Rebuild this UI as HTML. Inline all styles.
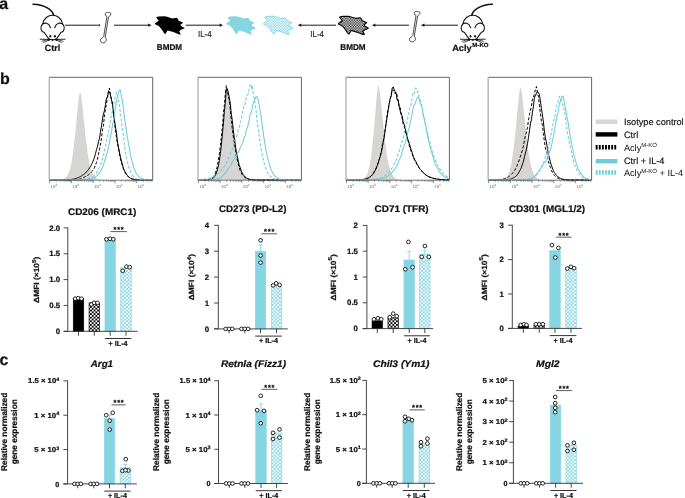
<!DOCTYPE html>
<html><head><meta charset="utf-8"><style>
html,body{margin:0;padding:0;background:#fff;}
svg{display:block;font-family:"Liberation Sans", sans-serif;will-change:transform;text-rendering:geometricPrecision;}
text[font-weight="bold"]{stroke:#111;stroke-width:0.22px;}
text[font-weight="normal"]{stroke:#111;stroke-width:0.16px;}
</style></head><body>
<svg width="685" height="498" viewBox="0 0 685 498">
<rect width="685" height="498" fill="#fff"/>
<defs>
<pattern id="chkK" width="3.6" height="3.6" patternUnits="userSpaceOnUse"><rect width="3.6" height="3.6" fill="#fff"/><rect width="1.8" height="1.8" fill="#000"/><rect x="1.8" y="1.8" width="1.8" height="1.8" fill="#000"/></pattern>
<pattern id="chkC" width="3.6" height="3.6" patternUnits="userSpaceOnUse"><rect width="3.6" height="3.6" fill="#fff"/><rect width="1.8" height="1.8" fill="#86d5e2"/><rect x="1.8" y="1.8" width="1.8" height="1.8" fill="#86d5e2"/></pattern>
<pattern id="chkCs" width="2.6" height="2.6" patternUnits="userSpaceOnUse"><rect width="2.6" height="2.6" fill="#fff"/><rect width="1.3" height="1.3" fill="#86d5e2"/><rect x="1.3" y="1.3" width="1.3" height="1.3" fill="#86d5e2"/></pattern>
<pattern id="chkKs" width="2.6" height="2.6" patternUnits="userSpaceOnUse"><rect width="2.6" height="2.6" fill="#fff"/><rect width="1.3" height="1.3" fill="#111"/><rect x="1.3" y="1.3" width="1.3" height="1.3" fill="#111"/></pattern>
</defs>
<text x="-0.70" y="8.50" font-size="16" font-weight="bold" font-style="normal" text-anchor="start" fill="#111" >a</text>
<text x="0.00" y="84.20" font-size="16" font-weight="bold" font-style="normal" text-anchor="start" fill="#111" >b</text>
<text x="-0.40" y="365.40" font-size="16" font-weight="bold" font-style="normal" text-anchor="start" fill="#111" >c</text>
<g transform="translate(52.6,0) scale(1,1)" fill="none" stroke="#111" stroke-width="1.05" stroke-linecap="round"><path d="M1,15.2 C0,10 -8,4.6 -19.5,4.3" stroke-width="1.6"/><path d="M-8.2,32.6 C-10,32 -11.2,31 -11.4,29.6 C-11.8,27.8 -11.2,25.2 -9.9,23.9 C-9,18.5 -4.5,15.2 0,15.2 C4.5,15.2 9,18.5 9.9,23.9 C11.2,25.2 11.8,27.8 11.4,29.6 C11.2,31 10,32 8.2,32.6 L4.2,38.3 C3,39.4 1.5,39.9 0,39.9 C-1.5,39.9 -3,39.4 -4.2,38.3 Z" fill="#fff"/><path d="M-9.8,23.9 C-8,22.7 -4,22.4 -2.1,27.7"/><path d="M9.8,23.9 C8,22.7 4,22.4 2.1,27.7"/><ellipse cx="-2.3" cy="36.3" rx="0.95" ry="1.2" fill="#111" stroke="none"/><ellipse cx="2.3" cy="36.3" rx="0.95" ry="1.2" fill="#111" stroke="none"/><path d="M-1.4,38.9 L1.4,38.9 L0.5,39.8 L0.35,41.0 L-0.35,41.0 L-0.5,39.8 Z" fill="#111" stroke="none"/><path d="M-12.5,39.2 L-3,39.4 M12.5,39.2 L3,39.4" stroke-width="0.9"/><ellipse cx="-3.9" cy="39.8" rx="1.3" ry="1.0" fill="#111" stroke="none"/><ellipse cx="3.9" cy="39.8" rx="1.3" ry="1.0" fill="#111" stroke="none"/><path d="M-3,39.6 C-6,40 -8.5,40.4 -10.6,41.3 M3,39.6 C6,40 8.5,40.4 10.6,41.3" stroke-width="0.75"/><path d="M-3,39.8 C-5,40.8 -7,41.8 -9,42.4 M3,39.8 C5,40.8 7,41.8 9,42.4" stroke-width="0.75"/></g>
<g transform="translate(472.8,0) scale(-1,1)" fill="none" stroke="#111" stroke-width="1.05" stroke-linecap="round"><path d="M1,15.2 C0,10 -8,4.6 -19.5,4.3" stroke-width="1.6"/><path d="M-8.2,32.6 C-10,32 -11.2,31 -11.4,29.6 C-11.8,27.8 -11.2,25.2 -9.9,23.9 C-9,18.5 -4.5,15.2 0,15.2 C4.5,15.2 9,18.5 9.9,23.9 C11.2,25.2 11.8,27.8 11.4,29.6 C11.2,31 10,32 8.2,32.6 L4.2,38.3 C3,39.4 1.5,39.9 0,39.9 C-1.5,39.9 -3,39.4 -4.2,38.3 Z" fill="#fff"/><path d="M-9.8,23.9 C-8,22.7 -4,22.4 -2.1,27.7"/><path d="M9.8,23.9 C8,22.7 4,22.4 2.1,27.7"/><ellipse cx="-2.3" cy="36.3" rx="0.95" ry="1.2" fill="#111" stroke="none"/><ellipse cx="2.3" cy="36.3" rx="0.95" ry="1.2" fill="#111" stroke="none"/><path d="M-1.4,38.9 L1.4,38.9 L0.5,39.8 L0.35,41.0 L-0.35,41.0 L-0.5,39.8 Z" fill="#111" stroke="none"/><path d="M-12.5,39.2 L-3,39.4 M12.5,39.2 L3,39.4" stroke-width="0.9"/><ellipse cx="-3.9" cy="39.8" rx="1.3" ry="1.0" fill="#111" stroke="none"/><ellipse cx="3.9" cy="39.8" rx="1.3" ry="1.0" fill="#111" stroke="none"/><path d="M-3,39.6 C-6,40 -8.5,40.4 -10.6,41.3 M3,39.6 C6,40 8.5,40.4 10.6,41.3" stroke-width="0.75"/><path d="M-3,39.8 C-5,40.8 -7,41.8 -9,42.4 M3,39.8 C5,40.8 7,41.8 9,42.4" stroke-width="0.75"/></g>
<text x="52.50" y="51.00" font-size="9" font-weight="bold" font-style="normal" text-anchor="middle" fill="#111" textLength="15.3" lengthAdjust="spacingAndGlyphs" >Ctrl</text>
<text x="452.20" y="51.20" font-size="9" font-weight="bold" font-style="normal" text-anchor="start" fill="#111" textLength="19.5" lengthAdjust="spacingAndGlyphs" >Acly</text>
<text x="472.30" y="47.00" font-size="6" font-weight="bold" font-style="normal" text-anchor="start" fill="#111" textLength="16.2" lengthAdjust="spacingAndGlyphs" >M-KO</text>
<g transform="translate(0,0)" fill="#fff" stroke="#111" stroke-width="0.75"><path d="M106.9,16.6 C105.6,15.8 104.9,14.6 105.4,13.4 C105.9,12.3 107.3,12.1 108.5,12.6 C109.6,12.3 110.9,12.8 110.9,14.0 C110.9,15.2 109.6,16.1 108.5,16.9 L105.2,37.3 C106.2,38.2 106.6,39.6 106.1,40.6 C105.7,41.8 104.6,43 103.4,42.8 C102.5,43.1 101,42.5 100.6,41.4 C100.1,40.3 100.6,38.9 101.6,38.3 C102.4,37.9 103.4,37.3 103.7,36.6 L106.9,16.6 Z"/></g>
<g transform="translate(309.1,-1)" fill="#fff" stroke="#111" stroke-width="0.75"><path d="M106.9,16.6 C105.6,15.8 104.9,14.6 105.4,13.4 C105.9,12.3 107.3,12.1 108.5,12.6 C109.6,12.3 110.9,12.8 110.9,14.0 C110.9,15.2 109.6,16.1 108.5,16.9 L105.2,37.3 C106.2,38.2 106.6,39.6 106.1,40.6 C105.7,41.8 104.6,43 103.4,42.8 C102.5,43.1 101,42.5 100.6,41.4 C100.1,40.3 100.6,38.9 101.6,38.3 C102.4,37.9 103.4,37.3 103.7,36.6 L106.9,16.6 Z"/></g>
<line x1="65" y1="25.2" x2="99.6" y2="25.2" stroke="#000" stroke-width="0.9"/>
<line x1="99.6" y1="24" x2="99.6" y2="26.4" stroke="#111" stroke-width="0.7"/>
<line x1="114" y1="25.2" x2="149.0" y2="25.2" stroke="#000" stroke-width="0.9"/>
<path d="M151.5,25.2 L148.1,23.599999999999998 L148.1,26.8 Z" fill="#111"/>
<line x1="185.8" y1="25.2" x2="220.5" y2="25.2" stroke="#000" stroke-width="0.9"/>
<path d="M223,25.2 L219.6,23.599999999999998 L219.6,26.8 Z" fill="#111"/>
<line x1="336" y1="25.2" x2="300.3" y2="25.2" stroke="#000" stroke-width="0.9"/>
<path d="M297.8,25.2 L301.2,23.599999999999998 L301.2,26.8 Z" fill="#111"/>
<line x1="409" y1="25.2" x2="374.5" y2="25.2" stroke="#000" stroke-width="0.9"/>
<path d="M372,25.2 L375.4,23.599999999999998 L375.4,26.8 Z" fill="#111"/>
<line x1="458" y1="25.2" x2="423.5" y2="25.2" stroke="#000" stroke-width="0.9"/>
<path d="M421,25.2 L424.4,23.599999999999998 L424.4,26.8 Z" fill="#111"/>
<text x="204.80" y="37.20" font-size="8.6" font-weight="normal" font-style="normal" text-anchor="middle" fill="#333" textLength="13.7" lengthAdjust="spacingAndGlyphs" >IL-4</text>
<text x="317.20" y="37.20" font-size="8.6" font-weight="normal" font-style="normal" text-anchor="middle" fill="#333" textLength="13.7" lengthAdjust="spacingAndGlyphs" >IL-4</text>
<text x="169.50" y="50.30" font-size="8.4" font-weight="bold" font-style="normal" text-anchor="middle" fill="#111" textLength="25.3" lengthAdjust="spacingAndGlyphs" >BMDM</text>
<text x="353.00" y="50.30" font-size="8.4" font-weight="bold" font-style="normal" text-anchor="middle" fill="#111" textLength="25.3" lengthAdjust="spacingAndGlyphs" >BMDM</text>
<path d="M156.1,17.3 C157,16.6 158,16.4 158.8,16.4 L164.6,16.2 C166.5,16.4 168,17 169.3,17.5 L172.2,18.4 L176.6,17.8 C177.6,18 178,19.5 178.6,20.8 L183,22.5 C182.6,23.6 181.2,24.1 180.4,24.6 L181,26 L184.7,28.1 C184,28.9 182.5,29.2 181.5,29.5 L179.2,31.3 L180.7,34.2 C180,34.5 179.2,34.4 178.6,34.2 L173.4,32.1 L167.5,30.4 L165.5,33.9 C164.8,34 164.4,33.6 164,33 L161.4,28.9 L158.8,26 L154.7,24 C154.8,23.4 155.2,23.1 155.8,22.8 L158.8,20.8 L156.4,17.8 Z" fill="#000"/>
<path d="M156.1,17.3 C157,16.6 158,16.4 158.8,16.4 L164.6,16.2 C166.5,16.4 168,17 169.3,17.5 L172.2,18.4 L176.6,17.8 C177.6,18 178,19.5 178.6,20.8 L183,22.5 C182.6,23.6 181.2,24.1 180.4,24.6 L181,26 L184.7,28.1 C184,28.9 182.5,29.2 181.5,29.5 L179.2,31.3 L180.7,34.2 C180,34.5 179.2,34.4 178.6,34.2 L173.4,32.1 L167.5,30.4 L165.5,33.9 C164.8,34 164.4,33.6 164,33 L161.4,28.9 L158.8,26 L154.7,24 C154.8,23.4 155.2,23.1 155.8,22.8 L158.8,20.8 L156.4,17.8 Z" fill="#86d5e2" transform="translate(71.4,0)"/>
<path d="M156.1,17.3 C157,16.6 158,16.4 158.8,16.4 L164.6,16.2 C166.5,16.4 168,17 169.3,17.5 L172.2,18.4 L176.6,17.8 C177.6,18 178,19.5 178.6,20.8 L183,22.5 C182.6,23.6 181.2,24.1 180.4,24.6 L181,26 L184.7,28.1 C184,28.9 182.5,29.2 181.5,29.5 L179.2,31.3 L180.7,34.2 C180,34.5 179.2,34.4 178.6,34.2 L173.4,32.1 L167.5,30.4 L165.5,33.9 C164.8,34 164.4,33.6 164,33 L161.4,28.9 L158.8,26 L154.7,24 C154.8,23.4 155.2,23.1 155.8,22.8 L158.8,20.8 L156.4,17.8 Z" fill="url(#chkCs)" stroke="#86d5e2" stroke-width="0.9" transform="translate(108.6,0)"/>
<path d="M156.1,17.3 C157,16.6 158,16.4 158.8,16.4 L164.6,16.2 C166.5,16.4 168,17 169.3,17.5 L172.2,18.4 L176.6,17.8 C177.6,18 178,19.5 178.6,20.8 L183,22.5 C182.6,23.6 181.2,24.1 180.4,24.6 L181,26 L184.7,28.1 C184,28.9 182.5,29.2 181.5,29.5 L179.2,31.3 L180.7,34.2 C180,34.5 179.2,34.4 178.6,34.2 L173.4,32.1 L167.5,30.4 L165.5,33.9 C164.8,34 164.4,33.6 164,33 L161.4,28.9 L158.8,26 L154.7,24 C154.8,23.4 155.2,23.1 155.8,22.8 L158.8,20.8 L156.4,17.8 Z" fill="url(#chkKs)" stroke="#000" stroke-width="1.1" transform="translate(183.6,0)"/>
<path d="M49.80,180.00 L50.79,180.00 L51.79,180.00 L52.78,180.00 L53.78,179.99 L54.77,179.99 L55.77,179.98 L56.76,179.97 L57.75,179.95 L58.75,179.91 L59.74,179.86 L60.74,179.76 L61.73,179.62 L62.72,179.39 L63.72,179.05 L64.71,178.54 L65.71,177.79 L66.70,176.70 L67.70,175.17 L68.69,173.05 L69.68,170.18 L70.68,166.40 L71.67,161.53 L72.67,155.43 L73.66,148.04 L74.65,139.39 L75.65,129.66 L76.64,119.27 L77.64,108.90 L78.63,99.58 L79.63,92.88 L80.62,92.93 L81.61,99.13 L82.61,107.70 L83.60,117.32 L84.60,127.10 L85.59,136.42 L86.58,144.89 L87.58,152.30 L88.57,158.57 L89.57,163.73 L90.56,167.87 L91.56,171.11 L92.55,173.59 L93.54,175.45 L94.54,176.82 L95.53,177.82 L96.53,178.52 L97.52,179.01 L98.51,179.35 L99.51,179.58 L100.50,179.73 L101.50,179.83 L102.49,179.89 L103.49,179.93 L104.48,179.96 L105.47,179.98 L106.47,179.99 L107.46,179.99 L108.46,180.00 L109.45,180.00 L110.44,180.00 L111.44,180.00 L112.43,180.00 L113.43,180.00 L114.42,180.00 L115.42,180.00 L116.41,180.00 L117.40,180.00 L118.40,180.00 L119.39,180.00 L120.39,180.00 L121.38,180.00 L122.37,180.00 L123.37,180.00 L124.36,180.00 L125.36,180.00 L126.35,180.00 L127.35,180.00 L128.34,180.00 L129.33,180.00 L130.33,180.00 L131.32,180.00 L132.32,180.00 L133.31,180.00 L134.30,180.00 L135.30,180.00 L136.29,180.00 L137.29,180.00 L138.28,180.00 L139.28,180.00 L140.27,180.00 L141.26,180.00 L142.26,180.00 L143.25,180.00 L144.25,180.00 L145.24,180.00 L146.23,180.00 L147.23,180.00 L148.22,180.00 L149.22,180.00 L150.21,180.00 L151.21,180.00 L152.20,180.00 L152.2,180.3 L49.8,180.3 Z" fill="#d7d5d3" stroke="none"/>
<path d="M49.80,180.00 L50.79,180.00 L51.79,180.00 L52.78,180.00 L53.78,180.00 L54.77,180.00 L55.77,180.00 L56.76,180.00 L57.75,180.00 L58.75,180.00 L59.74,180.00 L60.74,180.00 L61.73,180.00 L62.72,180.00 L63.72,180.00 L64.71,180.00 L65.71,180.00 L66.70,180.00 L67.70,180.00 L68.69,179.99 L69.68,179.99 L70.68,179.98 L71.67,179.96 L72.67,179.94 L73.66,179.90 L74.65,179.85 L75.65,179.77 L76.64,179.66 L77.64,179.52 L78.63,179.33 L79.63,179.09 L80.62,178.79 L81.61,178.43 L82.61,178.04 L83.60,177.60 L84.60,176.99 L85.59,176.56 L86.58,175.83 L87.58,175.24 L88.57,174.67 L89.57,173.73 L90.56,173.10 L91.56,171.90 L92.55,170.93 L93.54,169.47 L94.54,167.37 L95.53,164.66 L96.53,162.64 L97.52,159.13 L98.51,154.37 L99.51,148.80 L100.50,143.99 L101.50,138.22 L102.49,129.42 L103.49,125.49 L104.48,114.51 L105.47,109.62 L106.47,103.42 L107.46,97.57 L108.46,92.01 L109.45,87.99 L110.44,95.62 L111.44,98.88 L112.43,105.40 L113.43,114.09 L114.42,120.87 L115.42,130.10 L116.41,137.00 L117.40,143.02 L118.40,147.86 L119.39,153.75 L120.39,158.59 L121.38,162.25 L122.37,165.85 L123.37,168.84 L124.36,170.88 L125.36,172.92 L126.35,174.68 L127.35,175.82 L128.34,176.83 L129.33,177.55 L130.33,178.21 L131.32,178.67 L132.32,179.02 L133.31,179.29 L134.30,179.48 L135.30,179.63 L136.29,179.74 L137.29,179.81 L138.28,179.87 L139.28,179.91 L140.27,179.94 L141.26,179.96 L142.26,179.97 L143.25,179.98 L144.25,179.99 L145.24,179.99 L146.23,179.99 L147.23,180.00 L148.22,180.00 L149.22,180.00 L150.21,180.00 L151.21,180.00 L152.20,180.00" fill="none" stroke="#000" stroke-width="1.0" stroke-dasharray="3,1.8"/>
<path d="M49.80,180.00 L50.79,180.00 L51.79,180.00 L52.78,180.00 L53.78,180.00 L54.77,180.00 L55.77,180.00 L56.76,180.00 L57.75,180.00 L58.75,179.99 L59.74,179.99 L60.74,179.98 L61.73,179.98 L62.72,179.97 L63.72,179.95 L64.71,179.93 L65.71,179.91 L66.70,179.87 L67.70,179.82 L68.69,179.75 L69.68,179.67 L70.68,179.56 L71.67,179.43 L72.67,179.27 L73.66,179.07 L74.65,178.83 L75.65,178.55 L76.64,178.23 L77.64,177.82 L78.63,177.47 L79.63,176.85 L80.62,176.52 L81.61,175.85 L82.61,175.09 L83.60,174.60 L84.60,173.67 L85.59,173.02 L86.58,171.71 L87.58,170.53 L88.57,169.40 L89.57,167.72 L90.56,166.59 L91.56,164.34 L92.55,162.29 L93.54,159.85 L94.54,157.23 L95.53,153.37 L96.53,149.49 L97.52,146.49 L98.51,141.60 L99.51,138.56 L100.50,131.43 L101.50,126.11 L102.49,118.95 L103.49,113.75 L104.48,110.53 L105.47,104.53 L106.47,97.84 L107.46,97.23 L108.46,91.23 L109.45,91.53 L110.44,94.61 L111.44,99.99 L112.43,102.53 L113.43,113.00 L114.42,119.85 L115.42,126.70 L116.41,132.32 L117.40,141.47 L118.40,146.63 L119.39,151.97 L120.39,156.34 L121.38,160.78 L122.37,164.44 L123.37,168.05 L124.36,170.45 L125.36,172.54 L126.35,173.99 L127.35,175.35 L128.34,176.65 L129.33,177.46 L130.33,178.09 L131.32,178.55 L132.32,178.93 L133.31,179.22 L134.30,179.43 L135.30,179.59 L136.29,179.71 L137.29,179.79 L138.28,179.85 L139.28,179.90 L140.27,179.93 L141.26,179.95 L142.26,179.97 L143.25,179.98 L144.25,179.98 L145.24,179.99 L146.23,179.99 L147.23,180.00 L148.22,180.00 L149.22,180.00 L150.21,180.00 L151.21,180.00 L152.20,180.00" fill="none" stroke="#000" stroke-width="1.0" stroke-linejoin="round"/>
<path d="M49.80,180.00 L50.79,180.00 L51.79,180.00 L52.78,180.00 L53.78,180.00 L54.77,180.00 L55.77,180.00 L56.76,180.00 L57.75,180.00 L58.75,180.00 L59.74,180.00 L60.74,180.00 L61.73,180.00 L62.72,180.00 L63.72,180.00 L64.71,180.00 L65.71,180.00 L66.70,180.00 L67.70,180.00 L68.69,180.00 L69.68,179.99 L70.68,179.99 L71.67,179.99 L72.67,179.98 L73.66,179.98 L74.65,179.97 L75.65,179.96 L76.64,179.95 L77.64,179.93 L78.63,179.90 L79.63,179.87 L80.62,179.83 L81.61,179.78 L82.61,179.71 L83.60,179.62 L84.60,179.51 L85.59,179.37 L86.58,179.20 L87.58,178.98 L88.57,178.70 L89.57,178.36 L90.56,177.97 L91.56,177.42 L92.55,176.77 L93.54,176.08 L94.54,175.25 L95.53,174.03 L96.53,172.75 L97.52,171.12 L98.51,169.06 L99.51,167.10 L100.50,164.82 L101.50,161.94 L102.49,158.71 L103.49,156.06 L104.48,150.80 L105.47,146.61 L106.47,141.61 L107.46,136.62 L108.46,132.31 L109.45,126.70 L110.44,122.00 L111.44,114.24 L112.43,110.91 L113.43,105.61 L114.42,100.15 L115.42,96.36 L116.41,92.61 L117.40,94.14 L118.40,98.96 L119.39,104.96 L120.39,113.06 L121.38,120.44 L122.37,129.91 L123.37,135.53 L124.36,143.68 L125.36,151.18 L126.35,156.67 L127.35,161.40 L128.34,165.44 L129.33,168.93 L130.33,171.20 L131.32,173.32 L132.32,175.19 L133.31,176.46 L134.30,177.49 L135.30,178.20 L136.29,178.69 L137.29,179.08 L138.28,179.36 L139.28,179.56 L140.27,179.70 L141.26,179.80 L142.26,179.87 L143.25,179.91 L144.25,179.94 L145.24,179.96 L146.23,179.98 L147.23,179.98 L148.22,179.99 L149.22,179.99 L150.21,180.00 L151.21,180.00 L152.20,180.00" fill="none" stroke="#70ccda" stroke-width="1.05" stroke-dasharray="3,1.8"/>
<path d="M49.80,180.00 L50.79,180.00 L51.79,180.00 L52.78,180.00 L53.78,180.00 L54.77,180.00 L55.77,180.00 L56.76,180.00 L57.75,180.00 L58.75,180.00 L59.74,180.00 L60.74,180.00 L61.73,180.00 L62.72,180.00 L63.72,180.00 L64.71,180.00 L65.71,180.00 L66.70,180.00 L67.70,180.00 L68.69,180.00 L69.68,180.00 L70.68,180.00 L71.67,180.00 L72.67,179.99 L73.66,179.99 L74.65,179.99 L75.65,179.98 L76.64,179.98 L77.64,179.97 L78.63,179.96 L79.63,179.95 L80.62,179.93 L81.61,179.90 L82.61,179.87 L83.60,179.83 L84.60,179.78 L85.59,179.71 L86.58,179.63 L87.58,179.52 L88.57,179.38 L89.57,179.20 L90.56,178.98 L91.56,178.70 L92.55,178.36 L93.54,177.96 L94.54,177.46 L95.53,176.73 L96.53,176.11 L97.52,175.25 L98.51,173.85 L99.51,172.69 L100.50,171.35 L101.50,169.33 L102.49,167.62 L103.49,164.82 L104.48,161.56 L105.47,158.48 L106.47,155.13 L107.46,151.90 L108.46,147.43 L109.45,143.20 L110.44,136.68 L111.44,131.90 L112.43,125.46 L113.43,121.16 L114.42,115.80 L115.42,107.66 L116.41,101.33 L117.40,96.90 L118.40,92.93 L119.39,89.91 L120.39,90.10 L121.38,96.50 L122.37,100.64 L123.37,108.07 L124.36,116.57 L125.36,123.82 L126.35,130.19 L127.35,137.15 L128.34,142.59 L129.33,148.06 L130.33,154.26 L131.32,158.22 L132.32,162.24 L133.31,165.74 L134.30,169.03 L135.30,171.42 L136.29,173.29 L137.29,174.81 L138.28,176.02 L139.28,176.89 L140.27,177.62 L141.26,178.26 L142.26,178.71 L143.25,179.05 L144.25,179.31 L145.24,179.50 L146.23,179.64 L147.23,179.74 L148.22,179.82 L149.22,179.87 L150.21,179.91 L151.21,179.94 L152.20,179.96" fill="none" stroke="#70ccda" stroke-width="1.05" stroke-linejoin="round"/>
<path d="M49.3,77.3 L152.7,77.3 L152.7,180.2" fill="none" stroke="#666" stroke-width="1.0"/>
<line x1="49.3" y1="76.8" x2="49.3" y2="180.2" stroke="#b4b4b4" stroke-width="1.4"/>
<line x1="49.3" y1="180.2" x2="152.7" y2="180.2" stroke="#555" stroke-width="0.8"/>
<line x1="49.70" y1="180.3" x2="49.70" y2="183.2" stroke="#444" stroke-width="0.6"/>
<line x1="56.25" y1="180.3" x2="56.25" y2="181.8" stroke="#444" stroke-width="0.5"/>
<line x1="60.08" y1="180.3" x2="60.08" y2="181.8" stroke="#444" stroke-width="0.5"/>
<line x1="62.79" y1="180.3" x2="62.79" y2="181.8" stroke="#444" stroke-width="0.5"/>
<line x1="64.90" y1="180.3" x2="64.90" y2="181.8" stroke="#444" stroke-width="0.5"/>
<line x1="66.62" y1="180.3" x2="66.62" y2="181.8" stroke="#444" stroke-width="0.5"/>
<line x1="68.08" y1="180.3" x2="68.08" y2="181.8" stroke="#444" stroke-width="0.5"/>
<line x1="69.34" y1="180.3" x2="69.34" y2="181.8" stroke="#444" stroke-width="0.5"/>
<line x1="70.45" y1="180.3" x2="70.45" y2="181.8" stroke="#444" stroke-width="0.5"/>
<text x="50.60" y="188.0" font-size="4.4" fill="#666">10<tspan dy="-1.9" font-size="3.1">2</tspan></text>
<line x1="71.45" y1="180.3" x2="71.45" y2="183.2" stroke="#444" stroke-width="0.6"/>
<line x1="78.00" y1="180.3" x2="78.00" y2="181.8" stroke="#444" stroke-width="0.5"/>
<line x1="81.83" y1="180.3" x2="81.83" y2="181.8" stroke="#444" stroke-width="0.5"/>
<line x1="84.54" y1="180.3" x2="84.54" y2="181.8" stroke="#444" stroke-width="0.5"/>
<line x1="86.65" y1="180.3" x2="86.65" y2="181.8" stroke="#444" stroke-width="0.5"/>
<line x1="88.37" y1="180.3" x2="88.37" y2="181.8" stroke="#444" stroke-width="0.5"/>
<line x1="89.83" y1="180.3" x2="89.83" y2="181.8" stroke="#444" stroke-width="0.5"/>
<line x1="91.09" y1="180.3" x2="91.09" y2="181.8" stroke="#444" stroke-width="0.5"/>
<line x1="92.20" y1="180.3" x2="92.20" y2="181.8" stroke="#444" stroke-width="0.5"/>
<text x="72.35" y="188.0" font-size="4.4" fill="#666">10<tspan dy="-1.9" font-size="3.1">3</tspan></text>
<line x1="93.20" y1="180.3" x2="93.20" y2="183.2" stroke="#444" stroke-width="0.6"/>
<line x1="99.75" y1="180.3" x2="99.75" y2="181.8" stroke="#444" stroke-width="0.5"/>
<line x1="103.58" y1="180.3" x2="103.58" y2="181.8" stroke="#444" stroke-width="0.5"/>
<line x1="106.29" y1="180.3" x2="106.29" y2="181.8" stroke="#444" stroke-width="0.5"/>
<line x1="108.40" y1="180.3" x2="108.40" y2="181.8" stroke="#444" stroke-width="0.5"/>
<line x1="110.12" y1="180.3" x2="110.12" y2="181.8" stroke="#444" stroke-width="0.5"/>
<line x1="111.58" y1="180.3" x2="111.58" y2="181.8" stroke="#444" stroke-width="0.5"/>
<line x1="112.84" y1="180.3" x2="112.84" y2="181.8" stroke="#444" stroke-width="0.5"/>
<line x1="113.95" y1="180.3" x2="113.95" y2="181.8" stroke="#444" stroke-width="0.5"/>
<text x="94.10" y="188.0" font-size="4.4" fill="#666">10<tspan dy="-1.9" font-size="3.1">4</tspan></text>
<line x1="114.95" y1="180.3" x2="114.95" y2="183.2" stroke="#444" stroke-width="0.6"/>
<line x1="121.50" y1="180.3" x2="121.50" y2="181.8" stroke="#444" stroke-width="0.5"/>
<line x1="125.33" y1="180.3" x2="125.33" y2="181.8" stroke="#444" stroke-width="0.5"/>
<line x1="128.04" y1="180.3" x2="128.04" y2="181.8" stroke="#444" stroke-width="0.5"/>
<line x1="130.15" y1="180.3" x2="130.15" y2="181.8" stroke="#444" stroke-width="0.5"/>
<line x1="131.87" y1="180.3" x2="131.87" y2="181.8" stroke="#444" stroke-width="0.5"/>
<line x1="133.33" y1="180.3" x2="133.33" y2="181.8" stroke="#444" stroke-width="0.5"/>
<line x1="134.59" y1="180.3" x2="134.59" y2="181.8" stroke="#444" stroke-width="0.5"/>
<line x1="135.70" y1="180.3" x2="135.70" y2="181.8" stroke="#444" stroke-width="0.5"/>
<text x="115.85" y="188.0" font-size="4.4" fill="#666">10<tspan dy="-1.9" font-size="3.1">5</tspan></text>
<line x1="136.70" y1="180.3" x2="136.70" y2="183.2" stroke="#444" stroke-width="0.6"/>
<line x1="143.25" y1="180.3" x2="143.25" y2="181.8" stroke="#444" stroke-width="0.5"/>
<line x1="147.08" y1="180.3" x2="147.08" y2="181.8" stroke="#444" stroke-width="0.5"/>
<line x1="149.79" y1="180.3" x2="149.79" y2="181.8" stroke="#444" stroke-width="0.5"/>
<line x1="151.90" y1="180.3" x2="151.90" y2="181.8" stroke="#444" stroke-width="0.5"/>
<text x="137.60" y="188.0" font-size="4.4" fill="#666">10<tspan dy="-1.9" font-size="3.1">6</tspan></text>
<path d="M198.50,180.00 L199.49,180.00 L200.49,180.00 L201.48,180.00 L202.48,179.99 L203.47,179.99 L204.47,179.98 L205.46,179.97 L206.45,179.94 L207.45,179.90 L208.44,179.83 L209.44,179.71 L210.43,179.51 L211.42,179.20 L212.42,178.72 L213.41,177.98 L214.41,176.89 L215.40,175.29 L216.40,173.02 L217.39,169.87 L218.38,165.62 L219.38,160.06 L220.37,153.02 L221.37,144.41 L222.36,134.33 L223.35,123.10 L224.35,111.39 L225.34,100.27 L226.34,91.40 L227.33,88.30 L228.33,92.22 L229.32,98.52 L230.31,106.13 L231.31,114.38 L232.30,122.75 L233.30,130.88 L234.29,138.50 L235.28,145.46 L236.28,151.64 L237.27,157.02 L238.27,161.62 L239.26,165.47 L240.26,168.66 L241.25,171.24 L242.24,173.31 L243.24,174.95 L244.23,176.23 L245.23,177.21 L246.22,177.96 L247.21,178.52 L248.21,178.94 L249.20,179.24 L250.20,179.47 L251.19,179.63 L252.19,179.74 L253.18,179.82 L254.17,179.88 L255.17,179.92 L256.16,179.95 L257.16,179.96 L258.15,179.98 L259.14,179.98 L260.14,179.99 L261.13,179.99 L262.13,180.00 L263.12,180.00 L264.12,180.00 L265.11,180.00 L266.10,180.00 L267.10,180.00 L268.09,180.00 L269.09,180.00 L270.08,180.00 L271.07,180.00 L272.07,180.00 L273.06,180.00 L274.06,180.00 L275.05,180.00 L276.05,180.00 L277.04,180.00 L278.03,180.00 L279.03,180.00 L280.02,180.00 L281.02,180.00 L282.01,180.00 L283.00,180.00 L284.00,180.00 L284.99,180.00 L285.99,180.00 L286.98,180.00 L287.98,180.00 L288.97,180.00 L289.96,180.00 L290.96,180.00 L291.95,180.00 L292.95,180.00 L293.94,180.00 L294.93,180.00 L295.93,180.00 L296.92,180.00 L297.92,180.00 L298.91,180.00 L299.91,180.00 L300.90,180.00 L300.9,180.3 L198.5,180.3 Z" fill="#d7d5d3" stroke="none"/>
<path d="M198.50,180.00 L199.49,180.00 L200.49,180.00 L201.48,179.99 L202.48,179.99 L203.47,179.97 L204.47,179.96 L205.46,179.92 L206.45,179.87 L207.45,179.78 L208.44,179.64 L209.44,179.43 L210.43,179.09 L211.42,178.58 L212.42,177.76 L213.41,176.71 L214.41,175.07 L215.40,172.76 L216.40,170.19 L217.39,165.73 L218.38,160.15 L219.38,153.67 L220.37,145.65 L221.37,137.00 L222.36,127.69 L223.35,114.08 L224.35,105.32 L225.34,93.07 L226.34,85.56 L227.33,90.58 L228.33,95.95 L229.32,100.19 L230.31,109.71 L231.31,120.72 L232.30,129.10 L233.30,136.80 L234.29,142.02 L235.28,148.98 L236.28,155.99 L237.27,159.86 L238.27,163.93 L239.26,167.74 L240.26,170.75 L241.25,172.86 L242.24,174.78 L243.24,176.14 L244.23,176.96 L245.23,177.83 L246.22,178.45 L247.21,178.89 L248.21,179.22 L249.20,179.45 L250.20,179.62 L251.19,179.74 L252.19,179.82 L253.18,179.88 L254.17,179.92 L255.17,179.95 L256.16,179.96 L257.16,179.98 L258.15,179.99 L259.14,179.99 L260.14,179.99 L261.13,180.00 L262.13,180.00 L263.12,180.00 L264.12,180.00 L265.11,180.00 L266.10,180.00 L267.10,180.00 L268.09,180.00 L269.09,180.00 L270.08,180.00 L271.07,180.00 L272.07,180.00 L273.06,180.00 L274.06,180.00 L275.05,180.00 L276.05,180.00 L277.04,180.00 L278.03,180.00 L279.03,180.00 L280.02,180.00 L281.02,180.00 L282.01,180.00 L283.00,180.00 L284.00,180.00 L284.99,180.00 L285.99,180.00 L286.98,180.00 L287.98,180.00 L288.97,180.00 L289.96,180.00 L290.96,180.00 L291.95,180.00 L292.95,180.00 L293.94,180.00 L294.93,180.00 L295.93,180.00 L296.92,180.00 L297.92,180.00 L298.91,180.00 L299.91,180.00 L300.90,180.00" fill="none" stroke="#000" stroke-width="1.0" stroke-dasharray="3,1.8"/>
<path d="M198.50,180.00 L199.49,180.00 L200.49,180.00 L201.48,180.00 L202.48,179.99 L203.47,179.99 L204.47,179.98 L205.46,179.97 L206.45,179.94 L207.45,179.90 L208.44,179.83 L209.44,179.71 L210.43,179.51 L211.42,179.20 L212.42,178.72 L213.41,177.98 L214.41,176.79 L215.40,175.31 L216.40,172.84 L217.39,169.64 L218.38,165.91 L219.38,160.41 L220.37,153.41 L221.37,145.05 L222.36,134.05 L223.35,124.06 L224.35,111.78 L225.34,102.33 L226.34,88.86 L227.33,89.23 L228.33,92.36 L229.32,97.76 L230.31,103.57 L231.31,114.12 L232.30,120.29 L233.30,130.01 L234.29,137.48 L235.28,144.44 L236.28,151.68 L237.27,156.21 L238.27,161.20 L239.26,165.24 L240.26,167.72 L241.25,170.86 L242.24,172.82 L243.24,174.44 L244.23,175.86 L245.23,176.96 L246.22,177.73 L247.21,178.34 L248.21,178.80 L249.20,179.14 L250.20,179.38 L251.19,179.57 L252.19,179.70 L253.18,179.79 L254.17,179.86 L255.17,179.90 L256.16,179.93 L257.16,179.96 L258.15,179.97 L259.14,179.98 L260.14,179.99 L261.13,179.99 L262.13,179.99 L263.12,180.00 L264.12,180.00 L265.11,180.00 L266.10,180.00 L267.10,180.00 L268.09,180.00 L269.09,180.00 L270.08,180.00 L271.07,180.00 L272.07,180.00 L273.06,180.00 L274.06,180.00 L275.05,180.00 L276.05,180.00 L277.04,180.00 L278.03,180.00 L279.03,180.00 L280.02,180.00 L281.02,180.00 L282.01,180.00 L283.00,180.00 L284.00,180.00 L284.99,180.00 L285.99,180.00 L286.98,180.00 L287.98,180.00 L288.97,180.00 L289.96,180.00 L290.96,180.00 L291.95,180.00 L292.95,180.00 L293.94,180.00 L294.93,180.00 L295.93,180.00 L296.92,180.00 L297.92,180.00 L298.91,180.00 L299.91,180.00 L300.90,180.00" fill="none" stroke="#000" stroke-width="1.0" stroke-linejoin="round"/>
<path d="M198.50,179.66 L199.49,179.60 L200.49,179.52 L201.48,179.44 L202.48,179.34 L203.47,179.23 L204.47,179.09 L205.46,178.94 L206.45,178.77 L207.45,178.57 L208.44,178.33 L209.44,178.06 L210.43,177.73 L211.42,177.48 L212.42,177.02 L213.41,176.64 L214.41,176.14 L215.40,175.45 L216.40,174.89 L217.39,174.16 L218.38,173.28 L219.38,172.31 L220.37,171.54 L221.37,170.35 L222.36,169.20 L223.35,167.87 L224.35,166.26 L225.34,164.85 L226.34,163.03 L227.33,161.19 L228.33,158.55 L229.32,156.60 L230.31,153.90 L231.31,151.17 L232.30,149.62 L233.30,146.14 L234.29,142.20 L235.28,139.13 L236.28,137.50 L237.27,134.08 L238.27,129.53 L239.26,126.98 L240.26,122.64 L241.25,119.43 L242.24,113.24 L243.24,108.81 L244.23,104.40 L245.23,104.04 L246.22,97.81 L247.21,94.73 L248.21,94.41 L249.20,87.86 L250.20,85.27 L251.19,88.09 L252.19,84.96 L253.18,92.42 L254.17,98.13 L255.17,103.08 L256.16,111.66 L257.16,122.03 L258.15,128.70 L259.14,135.70 L260.14,142.80 L261.13,149.08 L262.13,154.18 L263.12,158.31 L264.12,163.13 L265.11,166.01 L266.10,168.95 L267.10,171.52 L268.09,173.25 L269.09,174.69 L270.08,175.96 L271.07,177.01 L272.07,177.62 L273.06,178.28 L274.06,178.72 L275.05,179.06 L276.05,179.32 L277.04,179.51 L278.03,179.64 L279.03,179.75 L280.02,179.82 L281.02,179.87 L282.01,179.91 L283.00,179.94 L284.00,179.96 L284.99,179.97 L285.99,179.98 L286.98,179.99 L287.98,179.99 L288.97,179.99 L289.96,180.00 L290.96,180.00 L291.95,180.00 L292.95,180.00 L293.94,180.00 L294.93,180.00 L295.93,180.00 L296.92,180.00 L297.92,180.00 L298.91,180.00 L299.91,180.00 L300.90,180.00" fill="none" stroke="#70ccda" stroke-width="1.05" stroke-dasharray="3,1.8"/>
<path d="M198.50,180.00 L199.49,180.00 L200.49,180.00 L201.48,179.99 L202.48,179.99 L203.47,179.99 L204.47,179.98 L205.46,179.98 L206.45,179.97 L207.45,179.95 L208.44,179.93 L209.44,179.91 L210.43,179.87 L211.42,179.82 L212.42,179.74 L213.41,179.65 L214.41,179.52 L215.40,179.35 L216.40,179.13 L217.39,178.85 L218.38,178.50 L219.38,178.02 L220.37,177.45 L221.37,176.95 L222.36,176.17 L223.35,175.37 L224.35,174.13 L225.34,173.18 L226.34,172.01 L227.33,170.50 L228.33,168.71 L229.32,167.18 L230.31,166.01 L231.31,164.48 L232.30,162.01 L233.30,160.66 L234.29,158.78 L235.28,157.88 L236.28,156.24 L237.27,153.54 L238.27,152.15 L239.26,150.89 L240.26,147.27 L241.25,145.66 L242.24,142.91 L243.24,141.94 L244.23,137.21 L245.23,136.14 L246.22,130.50 L247.21,128.03 L248.21,124.51 L249.20,119.68 L250.20,114.01 L251.19,112.36 L252.19,108.87 L253.18,103.18 L254.17,101.01 L255.17,98.74 L256.16,96.45 L257.16,97.00 L258.15,99.77 L259.14,104.59 L260.14,111.01 L261.13,116.22 L262.13,125.07 L263.12,131.42 L264.12,138.96 L265.11,144.72 L266.10,150.93 L267.10,155.50 L268.09,160.15 L269.09,163.14 L270.08,166.57 L271.07,169.53 L272.07,171.59 L273.06,173.25 L274.06,175.02 L275.05,176.01 L276.05,177.03 L277.04,177.75 L278.03,178.32 L279.03,178.75 L280.02,179.08 L281.02,179.33 L282.01,179.51 L283.00,179.65 L284.00,179.75 L284.99,179.82 L285.99,179.88 L286.98,179.91 L287.98,179.94 L288.97,179.96 L289.96,179.97 L290.96,179.98 L291.95,179.99 L292.95,179.99 L293.94,179.99 L294.93,180.00 L295.93,180.00 L296.92,180.00 L297.92,180.00 L298.91,180.00 L299.91,180.00 L300.90,180.00" fill="none" stroke="#70ccda" stroke-width="1.05" stroke-linejoin="round"/>
<path d="M198.0,77.3 L301.4,77.3 L301.4,180.2" fill="none" stroke="#666" stroke-width="1.0"/>
<line x1="198.0" y1="76.8" x2="198.0" y2="180.2" stroke="#b4b4b4" stroke-width="1.4"/>
<line x1="198.0" y1="180.2" x2="301.4" y2="180.2" stroke="#555" stroke-width="0.8"/>
<line x1="198.40" y1="180.3" x2="198.40" y2="183.2" stroke="#444" stroke-width="0.6"/>
<line x1="204.95" y1="180.3" x2="204.95" y2="181.8" stroke="#444" stroke-width="0.5"/>
<line x1="208.78" y1="180.3" x2="208.78" y2="181.8" stroke="#444" stroke-width="0.5"/>
<line x1="211.49" y1="180.3" x2="211.49" y2="181.8" stroke="#444" stroke-width="0.5"/>
<line x1="213.60" y1="180.3" x2="213.60" y2="181.8" stroke="#444" stroke-width="0.5"/>
<line x1="215.32" y1="180.3" x2="215.32" y2="181.8" stroke="#444" stroke-width="0.5"/>
<line x1="216.78" y1="180.3" x2="216.78" y2="181.8" stroke="#444" stroke-width="0.5"/>
<line x1="218.04" y1="180.3" x2="218.04" y2="181.8" stroke="#444" stroke-width="0.5"/>
<line x1="219.15" y1="180.3" x2="219.15" y2="181.8" stroke="#444" stroke-width="0.5"/>
<text x="199.30" y="188.0" font-size="4.4" fill="#666">10<tspan dy="-1.9" font-size="3.1">2</tspan></text>
<line x1="220.15" y1="180.3" x2="220.15" y2="183.2" stroke="#444" stroke-width="0.6"/>
<line x1="226.70" y1="180.3" x2="226.70" y2="181.8" stroke="#444" stroke-width="0.5"/>
<line x1="230.53" y1="180.3" x2="230.53" y2="181.8" stroke="#444" stroke-width="0.5"/>
<line x1="233.24" y1="180.3" x2="233.24" y2="181.8" stroke="#444" stroke-width="0.5"/>
<line x1="235.35" y1="180.3" x2="235.35" y2="181.8" stroke="#444" stroke-width="0.5"/>
<line x1="237.07" y1="180.3" x2="237.07" y2="181.8" stroke="#444" stroke-width="0.5"/>
<line x1="238.53" y1="180.3" x2="238.53" y2="181.8" stroke="#444" stroke-width="0.5"/>
<line x1="239.79" y1="180.3" x2="239.79" y2="181.8" stroke="#444" stroke-width="0.5"/>
<line x1="240.90" y1="180.3" x2="240.90" y2="181.8" stroke="#444" stroke-width="0.5"/>
<text x="221.05" y="188.0" font-size="4.4" fill="#666">10<tspan dy="-1.9" font-size="3.1">3</tspan></text>
<line x1="241.90" y1="180.3" x2="241.90" y2="183.2" stroke="#444" stroke-width="0.6"/>
<line x1="248.45" y1="180.3" x2="248.45" y2="181.8" stroke="#444" stroke-width="0.5"/>
<line x1="252.28" y1="180.3" x2="252.28" y2="181.8" stroke="#444" stroke-width="0.5"/>
<line x1="254.99" y1="180.3" x2="254.99" y2="181.8" stroke="#444" stroke-width="0.5"/>
<line x1="257.10" y1="180.3" x2="257.10" y2="181.8" stroke="#444" stroke-width="0.5"/>
<line x1="258.82" y1="180.3" x2="258.82" y2="181.8" stroke="#444" stroke-width="0.5"/>
<line x1="260.28" y1="180.3" x2="260.28" y2="181.8" stroke="#444" stroke-width="0.5"/>
<line x1="261.54" y1="180.3" x2="261.54" y2="181.8" stroke="#444" stroke-width="0.5"/>
<line x1="262.65" y1="180.3" x2="262.65" y2="181.8" stroke="#444" stroke-width="0.5"/>
<text x="242.80" y="188.0" font-size="4.4" fill="#666">10<tspan dy="-1.9" font-size="3.1">4</tspan></text>
<line x1="263.65" y1="180.3" x2="263.65" y2="183.2" stroke="#444" stroke-width="0.6"/>
<line x1="270.20" y1="180.3" x2="270.20" y2="181.8" stroke="#444" stroke-width="0.5"/>
<line x1="274.03" y1="180.3" x2="274.03" y2="181.8" stroke="#444" stroke-width="0.5"/>
<line x1="276.74" y1="180.3" x2="276.74" y2="181.8" stroke="#444" stroke-width="0.5"/>
<line x1="278.85" y1="180.3" x2="278.85" y2="181.8" stroke="#444" stroke-width="0.5"/>
<line x1="280.57" y1="180.3" x2="280.57" y2="181.8" stroke="#444" stroke-width="0.5"/>
<line x1="282.03" y1="180.3" x2="282.03" y2="181.8" stroke="#444" stroke-width="0.5"/>
<line x1="283.29" y1="180.3" x2="283.29" y2="181.8" stroke="#444" stroke-width="0.5"/>
<line x1="284.40" y1="180.3" x2="284.40" y2="181.8" stroke="#444" stroke-width="0.5"/>
<text x="264.55" y="188.0" font-size="4.4" fill="#666">10<tspan dy="-1.9" font-size="3.1">5</tspan></text>
<line x1="285.40" y1="180.3" x2="285.40" y2="183.2" stroke="#444" stroke-width="0.6"/>
<line x1="291.95" y1="180.3" x2="291.95" y2="181.8" stroke="#444" stroke-width="0.5"/>
<line x1="295.78" y1="180.3" x2="295.78" y2="181.8" stroke="#444" stroke-width="0.5"/>
<line x1="298.49" y1="180.3" x2="298.49" y2="181.8" stroke="#444" stroke-width="0.5"/>
<line x1="300.60" y1="180.3" x2="300.60" y2="181.8" stroke="#444" stroke-width="0.5"/>
<text x="286.30" y="188.0" font-size="4.4" fill="#666">10<tspan dy="-1.9" font-size="3.1">6</tspan></text>
<path d="M346.50,180.00 L347.49,180.00 L348.49,180.00 L349.48,180.00 L350.48,180.00 L351.47,180.00 L352.47,180.00 L353.46,180.00 L354.45,179.99 L355.45,179.98 L356.44,179.97 L357.44,179.95 L358.43,179.91 L359.42,179.85 L360.42,179.74 L361.41,179.57 L362.41,179.29 L363.40,178.86 L364.40,178.19 L365.39,177.18 L366.38,175.71 L367.38,173.60 L368.37,170.65 L369.37,166.63 L370.36,161.33 L371.35,154.53 L372.35,146.12 L373.34,136.13 L374.34,124.81 L375.33,112.73 L376.33,100.85 L377.32,90.67 L378.31,84.71 L379.31,88.08 L380.30,95.50 L381.30,104.79 L382.29,114.85 L383.28,124.90 L384.28,134.40 L385.27,143.03 L386.27,150.59 L387.26,157.02 L388.26,162.35 L389.25,166.67 L390.24,170.09 L391.24,172.74 L392.23,174.76 L393.23,176.28 L394.22,177.39 L395.21,178.19 L396.21,178.77 L397.20,179.17 L398.20,179.45 L399.19,179.64 L400.19,179.76 L401.18,179.85 L402.17,179.90 L403.17,179.94 L404.16,179.96 L405.16,179.98 L406.15,179.99 L407.14,179.99 L408.14,180.00 L409.13,180.00 L410.13,180.00 L411.12,180.00 L412.12,180.00 L413.11,180.00 L414.10,180.00 L415.10,180.00 L416.09,180.00 L417.09,180.00 L418.08,180.00 L419.07,180.00 L420.07,180.00 L421.06,180.00 L422.06,180.00 L423.05,180.00 L424.05,180.00 L425.04,180.00 L426.03,180.00 L427.03,180.00 L428.02,180.00 L429.02,180.00 L430.01,180.00 L431.00,180.00 L432.00,180.00 L432.99,180.00 L433.99,180.00 L434.98,180.00 L435.98,180.00 L436.97,180.00 L437.96,180.00 L438.96,180.00 L439.95,180.00 L440.95,180.00 L441.94,180.00 L442.93,180.00 L443.93,180.00 L444.92,180.00 L445.92,180.00 L446.91,180.00 L447.91,180.00 L448.90,180.00 L448.9,180.3 L346.5,180.3 Z" fill="#d7d5d3" stroke="none"/>
<path d="M346.50,180.00 L347.49,180.00 L348.49,179.99 L349.48,179.99 L350.48,179.99 L351.47,179.99 L352.47,179.98 L353.46,179.97 L354.45,179.96 L355.45,179.95 L356.44,179.93 L357.44,179.90 L358.43,179.87 L359.42,179.82 L360.42,179.76 L361.41,179.68 L362.41,179.57 L363.40,179.43 L364.40,179.25 L365.39,179.03 L366.38,178.74 L367.38,178.37 L368.37,177.86 L369.37,177.35 L370.36,176.62 L371.35,175.69 L372.35,174.49 L373.34,173.45 L374.34,171.62 L375.33,169.81 L376.33,167.64 L377.32,165.28 L378.31,162.39 L379.31,159.43 L380.30,155.52 L381.30,151.38 L382.29,145.05 L383.28,140.98 L384.28,135.62 L385.27,129.94 L386.27,120.68 L387.26,113.89 L388.26,108.27 L389.25,104.10 L390.24,98.78 L391.24,93.82 L392.23,89.50 L393.23,90.84 L394.22,90.46 L395.21,93.81 L396.21,92.42 L397.20,95.70 L398.20,101.69 L399.19,107.06 L400.19,107.38 L401.18,114.60 L402.17,118.42 L403.17,123.90 L404.16,126.35 L405.16,129.93 L406.15,133.66 L407.14,138.25 L408.14,140.88 L409.13,145.50 L410.13,147.98 L411.12,151.29 L412.12,153.44 L413.11,156.64 L414.10,159.02 L415.10,160.80 L416.09,162.92 L417.09,164.39 L418.08,166.18 L419.07,167.56 L420.07,169.07 L421.06,170.33 L422.06,171.40 L423.05,172.71 L424.05,173.65 L425.04,174.20 L426.03,175.24 L427.03,175.70 L428.02,176.30 L429.02,176.94 L430.01,177.21 L431.00,177.59 L432.00,177.97 L432.99,178.28 L433.99,178.53 L434.98,178.75 L435.98,178.94 L436.97,179.10 L437.96,179.24 L438.96,179.36 L439.95,179.46 L440.95,179.55 L441.94,179.62 L442.93,179.68 L443.93,179.73 L444.92,179.78 L445.92,179.82 L446.91,179.85 L447.91,179.87 L448.90,179.90" fill="none" stroke="#000" stroke-width="1.0" stroke-dasharray="3,1.8"/>
<path d="M346.50,180.00 L347.49,180.00 L348.49,180.00 L349.48,179.99 L350.48,179.99 L351.47,179.99 L352.47,179.98 L353.46,179.97 L354.45,179.96 L355.45,179.95 L356.44,179.93 L357.44,179.91 L358.43,179.87 L359.42,179.83 L360.42,179.77 L361.41,179.69 L362.41,179.59 L363.40,179.46 L364.40,179.29 L365.39,179.08 L366.38,178.80 L367.38,178.45 L368.37,177.98 L369.37,177.40 L370.36,176.86 L371.35,175.93 L372.35,174.90 L373.34,173.51 L374.34,171.98 L375.33,170.13 L376.33,168.16 L377.32,165.34 L378.31,162.61 L379.31,159.22 L380.30,156.15 L381.30,152.35 L382.29,147.50 L383.28,141.79 L384.28,136.96 L385.27,128.51 L386.27,123.13 L387.26,116.31 L388.26,109.78 L389.25,103.18 L390.24,98.43 L391.24,96.42 L392.23,87.87 L393.23,86.90 L394.22,89.73 L395.21,91.64 L396.21,93.61 L397.20,100.22 L398.20,99.90 L399.19,106.26 L400.19,110.99 L401.18,114.00 L402.17,115.97 L403.17,122.27 L404.16,124.17 L405.16,127.36 L406.15,132.93 L407.14,136.99 L408.14,140.25 L409.13,143.13 L410.13,146.20 L411.12,149.61 L412.12,152.43 L413.11,156.08 L414.10,158.37 L415.10,160.44 L416.09,161.89 L417.09,164.33 L418.08,165.81 L419.07,167.90 L420.07,169.26 L421.06,170.38 L422.06,171.30 L423.05,172.35 L424.05,173.32 L425.04,174.32 L426.03,174.98 L427.03,175.65 L428.02,176.23 L429.02,176.83 L430.01,177.11 L431.00,177.63 L432.00,177.86 L432.99,178.23 L433.99,178.48 L434.98,178.71 L435.98,178.90 L436.97,179.07 L437.96,179.21 L438.96,179.34 L439.95,179.44 L440.95,179.53 L441.94,179.61 L442.93,179.67 L443.93,179.72 L444.92,179.77 L445.92,179.81 L446.91,179.84 L447.91,179.87 L448.90,179.89" fill="none" stroke="#000" stroke-width="1.0" stroke-linejoin="round"/>
<path d="M346.50,180.00 L347.49,180.00 L348.49,180.00 L349.48,180.00 L350.48,180.00 L351.47,179.99 L352.47,179.99 L353.46,179.99 L354.45,179.99 L355.45,179.99 L356.44,179.98 L357.44,179.98 L358.43,179.97 L359.42,179.97 L360.42,179.96 L361.41,179.95 L362.41,179.94 L363.40,179.92 L364.40,179.90 L365.39,179.88 L366.38,179.85 L367.38,179.82 L368.37,179.78 L369.37,179.73 L370.36,179.67 L371.35,179.60 L372.35,179.52 L373.34,179.42 L374.34,179.30 L375.33,179.16 L376.33,178.99 L377.32,178.79 L378.31,178.56 L379.31,178.29 L380.30,177.92 L381.30,177.67 L382.29,177.18 L383.28,176.61 L384.28,175.99 L385.27,175.46 L386.27,174.77 L387.26,173.94 L388.26,172.67 L389.25,171.90 L390.24,170.47 L391.24,169.36 L392.23,167.55 L393.23,165.44 L394.22,164.26 L395.21,161.43 L396.21,159.44 L397.20,156.37 L398.20,153.82 L399.19,151.60 L400.19,147.16 L401.18,144.51 L402.17,141.95 L403.17,138.27 L404.16,132.98 L405.16,128.93 L406.15,125.14 L407.14,121.39 L408.14,116.29 L409.13,112.07 L410.13,105.54 L411.12,105.23 L412.12,97.88 L413.11,93.94 L414.10,94.72 L415.10,88.23 L416.09,88.24 L417.09,88.43 L418.08,94.05 L419.07,96.73 L420.07,100.30 L421.06,101.59 L422.06,107.85 L423.05,113.33 L424.05,117.65 L425.04,122.79 L426.03,128.02 L427.03,132.20 L428.02,134.43 L429.02,139.97 L430.01,142.39 L431.00,147.52 L432.00,150.88 L432.99,153.63 L433.99,157.03 L434.98,159.44 L435.98,161.24 L436.97,163.60 L437.96,165.72 L438.96,167.69 L439.95,169.13 L440.95,170.58 L441.94,172.06 L442.93,173.11 L443.93,174.34 L444.92,174.96 L445.92,175.79 L446.91,176.36 L447.91,176.95 L448.90,177.48" fill="none" stroke="#70ccda" stroke-width="1.05" stroke-dasharray="3,1.8"/>
<path d="M346.50,180.00 L347.49,180.00 L348.49,180.00 L349.48,180.00 L350.48,180.00 L351.47,180.00 L352.47,180.00 L353.46,180.00 L354.45,180.00 L355.45,180.00 L356.44,179.99 L357.44,179.99 L358.43,179.99 L359.42,179.99 L360.42,179.98 L361.41,179.98 L362.41,179.97 L363.40,179.97 L364.40,179.96 L365.39,179.95 L366.38,179.94 L367.38,179.92 L368.37,179.90 L369.37,179.88 L370.36,179.85 L371.35,179.82 L372.35,179.77 L373.34,179.72 L374.34,179.66 L375.33,179.59 L376.33,179.50 L377.32,179.39 L378.31,179.27 L379.31,179.11 L380.30,178.93 L381.30,178.72 L382.29,178.47 L383.28,178.23 L384.28,177.78 L385.27,177.49 L386.27,176.98 L387.26,176.47 L388.26,175.86 L389.25,175.03 L390.24,174.12 L391.24,173.45 L392.23,172.22 L393.23,171.21 L394.22,169.72 L395.21,168.32 L396.21,166.83 L397.20,165.01 L398.20,162.94 L399.19,159.89 L400.19,157.89 L401.18,155.60 L402.17,151.59 L403.17,148.21 L404.16,145.89 L405.16,143.05 L406.15,139.27 L407.14,135.72 L408.14,131.05 L409.13,127.78 L410.13,123.20 L411.12,119.03 L412.12,113.77 L413.11,108.49 L414.10,105.31 L415.10,103.47 L416.09,100.60 L417.09,97.86 L418.08,97.35 L419.07,98.66 L420.07,102.64 L421.06,105.15 L422.06,106.35 L423.05,114.49 L424.05,117.86 L425.04,122.42 L426.03,126.72 L427.03,133.56 L428.02,138.07 L429.02,142.57 L430.01,146.45 L431.00,150.30 L432.00,153.14 L432.99,156.71 L433.99,159.77 L434.98,163.42 L435.98,165.76 L436.97,167.33 L437.96,169.12 L438.96,171.03 L439.95,172.41 L440.95,173.87 L441.94,174.77 L442.93,175.52 L443.93,176.32 L444.92,176.97 L445.92,177.51 L446.91,178.06 L447.91,178.40 L448.90,178.71" fill="none" stroke="#70ccda" stroke-width="1.05" stroke-linejoin="round"/>
<path d="M346.0,77.3 L449.4,77.3 L449.4,180.2" fill="none" stroke="#666" stroke-width="1.0"/>
<line x1="346.0" y1="76.8" x2="346.0" y2="180.2" stroke="#b4b4b4" stroke-width="1.4"/>
<line x1="346.0" y1="180.2" x2="449.4" y2="180.2" stroke="#555" stroke-width="0.8"/>
<line x1="346.40" y1="180.3" x2="346.40" y2="183.2" stroke="#444" stroke-width="0.6"/>
<line x1="352.95" y1="180.3" x2="352.95" y2="181.8" stroke="#444" stroke-width="0.5"/>
<line x1="356.78" y1="180.3" x2="356.78" y2="181.8" stroke="#444" stroke-width="0.5"/>
<line x1="359.49" y1="180.3" x2="359.49" y2="181.8" stroke="#444" stroke-width="0.5"/>
<line x1="361.60" y1="180.3" x2="361.60" y2="181.8" stroke="#444" stroke-width="0.5"/>
<line x1="363.32" y1="180.3" x2="363.32" y2="181.8" stroke="#444" stroke-width="0.5"/>
<line x1="364.78" y1="180.3" x2="364.78" y2="181.8" stroke="#444" stroke-width="0.5"/>
<line x1="366.04" y1="180.3" x2="366.04" y2="181.8" stroke="#444" stroke-width="0.5"/>
<line x1="367.15" y1="180.3" x2="367.15" y2="181.8" stroke="#444" stroke-width="0.5"/>
<text x="347.30" y="188.0" font-size="4.4" fill="#666">10<tspan dy="-1.9" font-size="3.1">2</tspan></text>
<line x1="368.15" y1="180.3" x2="368.15" y2="183.2" stroke="#444" stroke-width="0.6"/>
<line x1="374.70" y1="180.3" x2="374.70" y2="181.8" stroke="#444" stroke-width="0.5"/>
<line x1="378.53" y1="180.3" x2="378.53" y2="181.8" stroke="#444" stroke-width="0.5"/>
<line x1="381.24" y1="180.3" x2="381.24" y2="181.8" stroke="#444" stroke-width="0.5"/>
<line x1="383.35" y1="180.3" x2="383.35" y2="181.8" stroke="#444" stroke-width="0.5"/>
<line x1="385.07" y1="180.3" x2="385.07" y2="181.8" stroke="#444" stroke-width="0.5"/>
<line x1="386.53" y1="180.3" x2="386.53" y2="181.8" stroke="#444" stroke-width="0.5"/>
<line x1="387.79" y1="180.3" x2="387.79" y2="181.8" stroke="#444" stroke-width="0.5"/>
<line x1="388.90" y1="180.3" x2="388.90" y2="181.8" stroke="#444" stroke-width="0.5"/>
<text x="369.05" y="188.0" font-size="4.4" fill="#666">10<tspan dy="-1.9" font-size="3.1">3</tspan></text>
<line x1="389.90" y1="180.3" x2="389.90" y2="183.2" stroke="#444" stroke-width="0.6"/>
<line x1="396.45" y1="180.3" x2="396.45" y2="181.8" stroke="#444" stroke-width="0.5"/>
<line x1="400.28" y1="180.3" x2="400.28" y2="181.8" stroke="#444" stroke-width="0.5"/>
<line x1="402.99" y1="180.3" x2="402.99" y2="181.8" stroke="#444" stroke-width="0.5"/>
<line x1="405.10" y1="180.3" x2="405.10" y2="181.8" stroke="#444" stroke-width="0.5"/>
<line x1="406.82" y1="180.3" x2="406.82" y2="181.8" stroke="#444" stroke-width="0.5"/>
<line x1="408.28" y1="180.3" x2="408.28" y2="181.8" stroke="#444" stroke-width="0.5"/>
<line x1="409.54" y1="180.3" x2="409.54" y2="181.8" stroke="#444" stroke-width="0.5"/>
<line x1="410.65" y1="180.3" x2="410.65" y2="181.8" stroke="#444" stroke-width="0.5"/>
<text x="390.80" y="188.0" font-size="4.4" fill="#666">10<tspan dy="-1.9" font-size="3.1">4</tspan></text>
<line x1="411.65" y1="180.3" x2="411.65" y2="183.2" stroke="#444" stroke-width="0.6"/>
<line x1="418.20" y1="180.3" x2="418.20" y2="181.8" stroke="#444" stroke-width="0.5"/>
<line x1="422.03" y1="180.3" x2="422.03" y2="181.8" stroke="#444" stroke-width="0.5"/>
<line x1="424.74" y1="180.3" x2="424.74" y2="181.8" stroke="#444" stroke-width="0.5"/>
<line x1="426.85" y1="180.3" x2="426.85" y2="181.8" stroke="#444" stroke-width="0.5"/>
<line x1="428.57" y1="180.3" x2="428.57" y2="181.8" stroke="#444" stroke-width="0.5"/>
<line x1="430.03" y1="180.3" x2="430.03" y2="181.8" stroke="#444" stroke-width="0.5"/>
<line x1="431.29" y1="180.3" x2="431.29" y2="181.8" stroke="#444" stroke-width="0.5"/>
<line x1="432.40" y1="180.3" x2="432.40" y2="181.8" stroke="#444" stroke-width="0.5"/>
<text x="412.55" y="188.0" font-size="4.4" fill="#666">10<tspan dy="-1.9" font-size="3.1">5</tspan></text>
<line x1="433.40" y1="180.3" x2="433.40" y2="183.2" stroke="#444" stroke-width="0.6"/>
<line x1="439.95" y1="180.3" x2="439.95" y2="181.8" stroke="#444" stroke-width="0.5"/>
<line x1="443.78" y1="180.3" x2="443.78" y2="181.8" stroke="#444" stroke-width="0.5"/>
<line x1="446.49" y1="180.3" x2="446.49" y2="181.8" stroke="#444" stroke-width="0.5"/>
<line x1="448.60" y1="180.3" x2="448.60" y2="181.8" stroke="#444" stroke-width="0.5"/>
<text x="434.30" y="188.0" font-size="4.4" fill="#666">10<tspan dy="-1.9" font-size="3.1">6</tspan></text>
<path d="M488.70,180.00 L489.69,180.00 L490.69,180.00 L491.68,180.00 L492.68,180.00 L493.67,179.99 L494.67,179.99 L495.66,179.98 L496.65,179.97 L497.65,179.95 L498.64,179.91 L499.64,179.85 L500.63,179.76 L501.62,179.61 L502.62,179.39 L503.61,179.05 L504.61,178.55 L505.60,177.82 L506.60,176.77 L507.59,175.30 L508.58,173.26 L509.58,170.52 L510.57,166.89 L511.57,162.22 L512.56,156.35 L513.55,149.19 L514.55,140.73 L515.54,131.10 L516.54,120.60 L517.53,109.80 L518.53,99.55 L519.52,91.10 L520.51,86.70 L521.51,90.71 L522.50,98.22 L523.50,107.42 L524.49,117.28 L525.48,127.07 L526.48,136.30 L527.47,144.63 L528.47,151.92 L529.46,158.10 L530.46,163.21 L531.45,167.34 L532.44,170.60 L533.44,173.13 L534.43,175.05 L535.43,176.48 L536.42,177.54 L537.41,178.30 L538.41,178.84 L539.40,179.22 L540.40,179.48 L541.39,179.66 L542.39,179.78 L543.38,179.86 L544.37,179.91 L545.37,179.94 L546.36,179.97 L547.36,179.98 L548.35,179.99 L549.34,179.99 L550.34,180.00 L551.33,180.00 L552.33,180.00 L553.32,180.00 L554.32,180.00 L555.31,180.00 L556.30,180.00 L557.30,180.00 L558.29,180.00 L559.29,180.00 L560.28,180.00 L561.27,180.00 L562.27,180.00 L563.26,180.00 L564.26,180.00 L565.25,180.00 L566.25,180.00 L567.24,180.00 L568.23,180.00 L569.23,180.00 L570.22,180.00 L571.22,180.00 L572.21,180.00 L573.20,180.00 L574.20,180.00 L575.19,180.00 L576.19,180.00 L577.18,180.00 L578.18,180.00 L579.17,180.00 L580.16,180.00 L581.16,180.00 L582.15,180.00 L583.15,180.00 L584.14,180.00 L585.13,180.00 L586.13,180.00 L587.12,180.00 L588.12,180.00 L589.11,180.00 L590.11,180.00 L591.10,180.00 L591.1,180.3 L488.7,180.3 Z" fill="#d7d5d3" stroke="none"/>
<path d="M488.70,179.97 L489.69,179.96 L490.69,179.95 L491.68,179.93 L492.68,179.91 L493.67,179.89 L494.67,179.86 L495.66,179.82 L496.65,179.77 L497.65,179.70 L498.64,179.63 L499.64,179.53 L500.63,179.41 L501.62,179.26 L502.62,179.07 L503.61,178.85 L504.61,178.58 L505.60,178.25 L506.60,177.91 L507.59,177.43 L508.58,176.79 L509.58,176.07 L510.57,175.17 L511.57,174.29 L512.56,173.20 L513.55,171.84 L514.55,170.53 L515.54,168.75 L516.54,167.26 L517.53,164.32 L518.53,162.45 L519.52,158.70 L520.51,155.95 L521.51,153.11 L522.50,149.77 L523.50,145.47 L524.49,140.06 L525.48,135.12 L526.48,132.11 L527.47,127.25 L528.47,120.21 L529.46,114.58 L530.46,110.20 L531.45,105.98 L532.44,99.15 L533.44,98.33 L534.43,93.11 L535.43,89.68 L536.42,86.53 L537.41,92.27 L538.41,96.49 L539.40,105.40 L540.40,113.71 L541.39,120.90 L542.39,125.43 L543.38,133.48 L544.37,141.22 L545.37,147.80 L546.36,152.07 L547.36,156.55 L548.35,161.08 L549.34,164.79 L550.34,167.39 L551.33,169.75 L552.33,172.28 L553.32,174.02 L554.32,175.25 L555.31,176.32 L556.30,177.13 L557.30,177.90 L558.29,178.38 L559.29,178.79 L560.28,179.10 L561.27,179.34 L562.27,179.52 L563.26,179.65 L564.26,179.75 L565.25,179.82 L566.25,179.87 L567.24,179.91 L568.23,179.94 L569.23,179.96 L570.22,179.97 L571.22,179.98 L572.21,179.99 L573.20,179.99 L574.20,179.99 L575.19,180.00 L576.19,180.00 L577.18,180.00 L578.18,180.00 L579.17,180.00 L580.16,180.00 L581.16,180.00 L582.15,180.00 L583.15,180.00 L584.14,180.00 L585.13,180.00 L586.13,180.00 L587.12,180.00 L588.12,180.00 L589.11,180.00 L590.11,180.00 L591.10,180.00" fill="none" stroke="#000" stroke-width="1.0" stroke-dasharray="3,1.8"/>
<path d="M488.70,180.00 L489.69,180.00 L490.69,180.00 L491.68,180.00 L492.68,180.00 L493.67,180.00 L494.67,179.99 L495.66,179.99 L496.65,179.99 L497.65,179.98 L498.64,179.97 L499.64,179.96 L500.63,179.95 L501.62,179.93 L502.62,179.91 L503.61,179.87 L504.61,179.82 L505.60,179.76 L506.60,179.68 L507.59,179.57 L508.58,179.43 L509.58,179.25 L510.57,179.01 L511.57,178.71 L512.56,178.33 L513.55,177.79 L514.55,177.18 L515.54,176.47 L516.54,175.63 L517.53,174.20 L518.53,173.08 L519.52,171.11 L520.51,169.50 L521.51,167.18 L522.50,163.85 L523.50,161.18 L524.49,156.47 L525.48,153.00 L526.48,148.96 L527.47,143.77 L528.47,137.61 L529.46,130.70 L530.46,123.11 L531.45,119.76 L532.44,112.11 L533.44,106.66 L534.43,96.51 L535.43,96.21 L536.42,93.06 L537.41,91.80 L538.41,92.62 L539.40,94.52 L540.40,100.78 L541.39,108.40 L542.39,114.34 L543.38,121.89 L544.37,131.03 L545.37,137.90 L546.36,141.87 L547.36,147.98 L548.35,154.35 L549.34,157.61 L550.34,161.85 L551.33,165.13 L552.33,167.95 L553.32,170.40 L554.32,172.42 L555.31,173.87 L556.30,175.15 L557.30,176.05 L558.29,177.11 L559.29,177.64 L560.28,178.25 L561.27,178.68 L562.27,179.00 L563.26,179.25 L564.26,179.44 L565.25,179.59 L566.25,179.70 L567.24,179.78 L568.23,179.84 L569.23,179.89 L570.22,179.92 L571.22,179.94 L572.21,179.96 L573.20,179.97 L574.20,179.98 L575.19,179.99 L576.19,179.99 L577.18,179.99 L578.18,180.00 L579.17,180.00 L580.16,180.00 L581.16,180.00 L582.15,180.00 L583.15,180.00 L584.14,180.00 L585.13,180.00 L586.13,180.00 L587.12,180.00 L588.12,180.00 L589.11,180.00 L590.11,180.00 L591.10,180.00" fill="none" stroke="#000" stroke-width="1.0" stroke-linejoin="round"/>
<path d="M488.70,180.00 L489.69,180.00 L490.69,180.00 L491.68,180.00 L492.68,180.00 L493.67,180.00 L494.67,180.00 L495.66,180.00 L496.65,180.00 L497.65,180.00 L498.64,180.00 L499.64,180.00 L500.63,180.00 L501.62,180.00 L502.62,180.00 L503.61,180.00 L504.61,180.00 L505.60,180.00 L506.60,180.00 L507.59,180.00 L508.58,179.99 L509.58,179.99 L510.57,179.99 L511.57,179.99 L512.56,179.98 L513.55,179.98 L514.55,179.97 L515.54,179.96 L516.54,179.95 L517.53,179.93 L518.53,179.91 L519.52,179.88 L520.51,179.85 L521.51,179.80 L522.50,179.75 L523.50,179.68 L524.49,179.59 L525.48,179.49 L526.48,179.35 L527.47,179.19 L528.47,178.98 L529.46,178.74 L530.46,178.43 L531.45,178.10 L532.44,177.65 L533.44,177.04 L534.43,176.39 L535.43,175.73 L536.42,174.96 L537.41,173.79 L538.41,172.62 L539.40,170.93 L540.40,169.72 L541.39,167.77 L542.39,165.20 L543.38,163.62 L544.37,160.55 L545.37,157.02 L546.36,153.71 L547.36,151.30 L548.35,147.48 L549.34,143.29 L550.34,136.72 L551.33,133.72 L552.33,127.34 L553.32,121.73 L554.32,118.65 L555.31,114.02 L556.30,106.42 L557.30,103.53 L558.29,101.48 L559.29,96.41 L560.28,96.93 L561.27,99.00 L562.27,104.02 L563.26,105.47 L564.26,110.51 L565.25,117.69 L566.25,122.83 L567.24,131.80 L568.23,136.94 L569.23,141.85 L570.22,146.04 L571.22,150.89 L572.21,156.08 L573.20,160.01 L574.20,163.10 L575.19,165.93 L576.19,168.11 L577.18,170.71 L578.18,172.18 L579.17,173.73 L580.16,174.96 L581.16,176.01 L582.15,176.88 L583.15,177.59 L584.14,178.13 L585.13,178.53 L586.13,178.87 L587.12,179.14 L588.12,179.34 L589.11,179.51 L590.11,179.63 L591.10,179.72" fill="none" stroke="#70ccda" stroke-width="1.05" stroke-dasharray="3,1.8"/>
<path d="M488.70,180.00 L489.69,180.00 L490.69,180.00 L491.68,180.00 L492.68,180.00 L493.67,180.00 L494.67,180.00 L495.66,180.00 L496.65,180.00 L497.65,180.00 L498.64,180.00 L499.64,180.00 L500.63,180.00 L501.62,180.00 L502.62,180.00 L503.61,180.00 L504.61,180.00 L505.60,180.00 L506.60,180.00 L507.59,180.00 L508.58,180.00 L509.58,180.00 L510.57,180.00 L511.57,180.00 L512.56,180.00 L513.55,180.00 L514.55,179.99 L515.54,179.99 L516.54,179.99 L517.53,179.99 L518.53,179.98 L519.52,179.98 L520.51,179.97 L521.51,179.95 L522.50,179.94 L523.50,179.91 L524.49,179.88 L525.48,179.83 L526.48,179.76 L527.47,179.66 L528.47,179.52 L529.46,179.31 L530.46,179.01 L531.45,178.61 L532.44,178.08 L533.44,177.32 L534.43,176.57 L535.43,175.51 L536.42,174.12 L537.41,172.97 L538.41,171.65 L539.40,170.24 L540.40,168.46 L541.39,167.21 L542.39,165.30 L543.38,164.01 L544.37,162.51 L545.37,161.79 L546.36,160.36 L547.36,158.42 L548.35,155.54 L549.34,152.40 L550.34,149.56 L551.33,146.24 L552.33,141.65 L553.32,136.48 L554.32,131.27 L555.31,125.70 L556.30,119.83 L557.30,114.99 L558.29,111.93 L559.29,103.90 L560.28,102.08 L561.27,97.37 L562.27,96.41 L563.26,96.12 L564.26,102.46 L565.25,107.08 L566.25,112.68 L567.24,119.01 L568.23,122.65 L569.23,129.89 L570.22,136.55 L571.22,141.98 L572.21,146.01 L573.20,151.75 L574.20,156.46 L575.19,159.52 L576.19,163.09 L577.18,165.74 L578.18,168.91 L579.17,170.77 L580.16,172.39 L581.16,173.89 L582.15,175.11 L583.15,176.33 L584.14,177.07 L585.13,177.74 L586.13,178.24 L587.12,178.62 L588.12,178.94 L589.11,179.20 L590.11,179.39 L591.10,179.54" fill="none" stroke="#70ccda" stroke-width="1.05" stroke-linejoin="round"/>
<path d="M488.2,77.3 L591.6,77.3 L591.6,180.2" fill="none" stroke="#666" stroke-width="1.0"/>
<line x1="488.2" y1="76.8" x2="488.2" y2="180.2" stroke="#b4b4b4" stroke-width="1.4"/>
<line x1="488.2" y1="180.2" x2="591.6" y2="180.2" stroke="#555" stroke-width="0.8"/>
<line x1="488.60" y1="180.3" x2="488.60" y2="183.2" stroke="#444" stroke-width="0.6"/>
<line x1="495.15" y1="180.3" x2="495.15" y2="181.8" stroke="#444" stroke-width="0.5"/>
<line x1="498.98" y1="180.3" x2="498.98" y2="181.8" stroke="#444" stroke-width="0.5"/>
<line x1="501.69" y1="180.3" x2="501.69" y2="181.8" stroke="#444" stroke-width="0.5"/>
<line x1="503.80" y1="180.3" x2="503.80" y2="181.8" stroke="#444" stroke-width="0.5"/>
<line x1="505.52" y1="180.3" x2="505.52" y2="181.8" stroke="#444" stroke-width="0.5"/>
<line x1="506.98" y1="180.3" x2="506.98" y2="181.8" stroke="#444" stroke-width="0.5"/>
<line x1="508.24" y1="180.3" x2="508.24" y2="181.8" stroke="#444" stroke-width="0.5"/>
<line x1="509.35" y1="180.3" x2="509.35" y2="181.8" stroke="#444" stroke-width="0.5"/>
<text x="489.50" y="188.0" font-size="4.4" fill="#666">10<tspan dy="-1.9" font-size="3.1">2</tspan></text>
<line x1="510.35" y1="180.3" x2="510.35" y2="183.2" stroke="#444" stroke-width="0.6"/>
<line x1="516.90" y1="180.3" x2="516.90" y2="181.8" stroke="#444" stroke-width="0.5"/>
<line x1="520.73" y1="180.3" x2="520.73" y2="181.8" stroke="#444" stroke-width="0.5"/>
<line x1="523.44" y1="180.3" x2="523.44" y2="181.8" stroke="#444" stroke-width="0.5"/>
<line x1="525.55" y1="180.3" x2="525.55" y2="181.8" stroke="#444" stroke-width="0.5"/>
<line x1="527.27" y1="180.3" x2="527.27" y2="181.8" stroke="#444" stroke-width="0.5"/>
<line x1="528.73" y1="180.3" x2="528.73" y2="181.8" stroke="#444" stroke-width="0.5"/>
<line x1="529.99" y1="180.3" x2="529.99" y2="181.8" stroke="#444" stroke-width="0.5"/>
<line x1="531.10" y1="180.3" x2="531.10" y2="181.8" stroke="#444" stroke-width="0.5"/>
<text x="511.25" y="188.0" font-size="4.4" fill="#666">10<tspan dy="-1.9" font-size="3.1">3</tspan></text>
<line x1="532.10" y1="180.3" x2="532.10" y2="183.2" stroke="#444" stroke-width="0.6"/>
<line x1="538.65" y1="180.3" x2="538.65" y2="181.8" stroke="#444" stroke-width="0.5"/>
<line x1="542.48" y1="180.3" x2="542.48" y2="181.8" stroke="#444" stroke-width="0.5"/>
<line x1="545.19" y1="180.3" x2="545.19" y2="181.8" stroke="#444" stroke-width="0.5"/>
<line x1="547.30" y1="180.3" x2="547.30" y2="181.8" stroke="#444" stroke-width="0.5"/>
<line x1="549.02" y1="180.3" x2="549.02" y2="181.8" stroke="#444" stroke-width="0.5"/>
<line x1="550.48" y1="180.3" x2="550.48" y2="181.8" stroke="#444" stroke-width="0.5"/>
<line x1="551.74" y1="180.3" x2="551.74" y2="181.8" stroke="#444" stroke-width="0.5"/>
<line x1="552.85" y1="180.3" x2="552.85" y2="181.8" stroke="#444" stroke-width="0.5"/>
<text x="533.00" y="188.0" font-size="4.4" fill="#666">10<tspan dy="-1.9" font-size="3.1">4</tspan></text>
<line x1="553.85" y1="180.3" x2="553.85" y2="183.2" stroke="#444" stroke-width="0.6"/>
<line x1="560.40" y1="180.3" x2="560.40" y2="181.8" stroke="#444" stroke-width="0.5"/>
<line x1="564.23" y1="180.3" x2="564.23" y2="181.8" stroke="#444" stroke-width="0.5"/>
<line x1="566.94" y1="180.3" x2="566.94" y2="181.8" stroke="#444" stroke-width="0.5"/>
<line x1="569.05" y1="180.3" x2="569.05" y2="181.8" stroke="#444" stroke-width="0.5"/>
<line x1="570.77" y1="180.3" x2="570.77" y2="181.8" stroke="#444" stroke-width="0.5"/>
<line x1="572.23" y1="180.3" x2="572.23" y2="181.8" stroke="#444" stroke-width="0.5"/>
<line x1="573.49" y1="180.3" x2="573.49" y2="181.8" stroke="#444" stroke-width="0.5"/>
<line x1="574.60" y1="180.3" x2="574.60" y2="181.8" stroke="#444" stroke-width="0.5"/>
<text x="554.75" y="188.0" font-size="4.4" fill="#666">10<tspan dy="-1.9" font-size="3.1">5</tspan></text>
<line x1="575.60" y1="180.3" x2="575.60" y2="183.2" stroke="#444" stroke-width="0.6"/>
<line x1="582.15" y1="180.3" x2="582.15" y2="181.8" stroke="#444" stroke-width="0.5"/>
<line x1="585.98" y1="180.3" x2="585.98" y2="181.8" stroke="#444" stroke-width="0.5"/>
<line x1="588.69" y1="180.3" x2="588.69" y2="181.8" stroke="#444" stroke-width="0.5"/>
<line x1="590.80" y1="180.3" x2="590.80" y2="181.8" stroke="#444" stroke-width="0.5"/>
<text x="576.50" y="188.0" font-size="4.4" fill="#666">10<tspan dy="-1.9" font-size="3.1">6</tspan></text>
<rect x="595.7" y="119.5" width="21.699999999999932" height="4.4" fill="#d7d5d3"/>
<rect x="595.7" y="132.20000000000002" width="21.699999999999932" height="4.4" fill="#000"/>
<line x1="595.7" y1="147.2" x2="617.4" y2="147.2" stroke="#000" stroke-width="4.4" stroke-dasharray="1.9,1.2"/>
<rect x="595.7" y="159.0" width="21.699999999999932" height="4.4" fill="#70ccda"/>
<line x1="595.7" y1="172.5" x2="617.4" y2="172.5" stroke="#70ccda" stroke-width="4.4" stroke-dasharray="1.9,1.2"/>
<text x="623.90" y="125.00" font-size="9.2" font-weight="normal" font-style="normal" text-anchor="start" fill="#111" >Isotype control</text>
<text x="623.90" y="137.80" font-size="9.2" font-weight="normal" font-style="normal" text-anchor="start" fill="#111" >Ctrl</text>
<text x="623.9" y="150.6" font-size="9.2" fill="#111">Acly<tspan dy="-3.2" font-size="6">M-KO</tspan></text>
<text x="623.90" y="164.40" font-size="9.2" font-weight="normal" font-style="normal" text-anchor="start" fill="#111" >Ctrl + IL-4</text>
<text x="623.9" y="175.9" font-size="9.2" fill="#111">Acly<tspan dy="-3.2" font-size="6">M-KO</tspan><tspan dy="3.2"> + IL-4</tspan></text>
<rect x="73.25" y="298.73" width="10.5" height="32.57" fill="#000" stroke="#000" stroke-width="0.6"/>
<rect x="89.05" y="302.87" width="10.5" height="28.44" fill="url(#chkK)" stroke="#000" stroke-width="0.6"/>
<rect x="104.95" y="238.76" width="10.5" height="92.54" fill="#86d5e2" stroke="#86d5e2" stroke-width="0.6"/>
<rect x="120.75" y="267.71" width="10.5" height="63.59" fill="url(#chkC)" stroke="#86d5e2" stroke-width="0.6"/>
<line x1="67.80" y1="331.30" x2="67.80" y2="227.50" stroke="#333" stroke-width="0.9"/>
<line x1="63.60" y1="331.30" x2="137.50" y2="331.30" stroke="#333" stroke-width="0.9"/>
<line x1="63.60" y1="331.30" x2="67.80" y2="331.30" stroke="#333" stroke-width="0.9"/>
<text x="60.20" y="333.90" font-size="7.8" font-weight="bold" text-anchor="end" fill="#111">0</text>
<line x1="63.60" y1="305.45" x2="67.80" y2="305.45" stroke="#333" stroke-width="0.9"/>
<text x="60.20" y="308.05" font-size="7.8" font-weight="bold" text-anchor="end" fill="#111">0.5</text>
<line x1="63.60" y1="279.60" x2="67.80" y2="279.60" stroke="#333" stroke-width="0.9"/>
<text x="60.20" y="282.20" font-size="7.8" font-weight="bold" text-anchor="end" fill="#111">1.0</text>
<line x1="63.60" y1="253.75" x2="67.80" y2="253.75" stroke="#333" stroke-width="0.9"/>
<text x="60.20" y="256.35" font-size="7.8" font-weight="bold" text-anchor="end" fill="#111">1.5</text>
<line x1="63.60" y1="227.90" x2="67.80" y2="227.90" stroke="#333" stroke-width="0.9"/>
<text x="60.20" y="230.50" font-size="7.8" font-weight="bold" text-anchor="end" fill="#111">2.0</text>
<line x1="78.50" y1="331.30" x2="78.50" y2="335.70" stroke="#333" stroke-width="0.9"/>
<line x1="94.30" y1="331.30" x2="94.30" y2="335.70" stroke="#333" stroke-width="0.9"/>
<line x1="110.20" y1="331.30" x2="110.20" y2="335.70" stroke="#333" stroke-width="0.9"/>
<line x1="126.00" y1="331.30" x2="126.00" y2="335.70" stroke="#333" stroke-width="0.9"/>
<circle cx="75.20" cy="298.73" r="1.85" fill="#fff" stroke="#000" stroke-width="0.85"/>
<circle cx="78.20" cy="298.21" r="1.85" fill="#fff" stroke="#000" stroke-width="0.85"/>
<circle cx="81.50" cy="298.73" r="1.85" fill="#fff" stroke="#000" stroke-width="0.85"/>
<circle cx="91.30" cy="304.42" r="1.85" fill="#fff" stroke="#000" stroke-width="0.85"/>
<circle cx="94.10" cy="302.87" r="1.85" fill="#fff" stroke="#000" stroke-width="0.85"/>
<circle cx="97.50" cy="302.87" r="1.85" fill="#fff" stroke="#000" stroke-width="0.85"/>
<circle cx="106.40" cy="239.27" r="1.85" fill="#fff" stroke="#000" stroke-width="0.85"/>
<circle cx="110.00" cy="238.76" r="1.85" fill="#fff" stroke="#000" stroke-width="0.85"/>
<circle cx="113.30" cy="239.27" r="1.85" fill="#fff" stroke="#000" stroke-width="0.85"/>
<circle cx="122.70" cy="270.81" r="1.85" fill="#fff" stroke="#000" stroke-width="0.85"/>
<circle cx="126.50" cy="266.68" r="1.85" fill="#fff" stroke="#000" stroke-width="0.85"/>
<circle cx="129.70" cy="267.19" r="1.85" fill="#fff" stroke="#000" stroke-width="0.85"/>
<line x1="104.90" y1="338.50" x2="131.30" y2="338.50" stroke="#333" stroke-width="1.0"/>
<text x="118.10" y="345.80" font-size="7.2" font-weight="bold" text-anchor="middle" fill="#111" textLength="19" lengthAdjust="spacingAndGlyphs">+ IL-4</text>
<line x1="110.40" y1="231.60" x2="126.90" y2="231.60" stroke="#333" stroke-width="0.8"/>
<text x="118.65" y="232.10" font-size="7.4" font-weight="bold" text-anchor="middle" fill="#000" stroke="#000" stroke-width="0.25" textLength="10.2" lengthAdjust="spacing">***</text>
<text x="102.15" y="214.50" font-size="9.6" font-weight="bold" text-anchor="middle" fill="#111" textLength="68.1" lengthAdjust="spacingAndGlyphs">CD206 (MRC1)</text>
<text transform="translate(39.40,279.80) rotate(-90)" x="0" y="0" font-size="7.5" font-weight="bold" text-anchor="middle" fill="#111" textLength="46.2" lengthAdjust="spacingAndGlyphs">ΔMFI (×10<tspan dy="-3.5" font-size="5.6">5</tspan><tspan dy="3.5">)</tspan></text>
<rect x="255.25" y="251.20" width="10.5" height="77.70" fill="#86d5e2" stroke="#86d5e2" stroke-width="0.6"/>
<line x1="260.50" y1="251.20" x2="260.50" y2="244.72" stroke="#86d5e2" stroke-width="0.9"/>
<line x1="258.50" y1="244.72" x2="262.50" y2="244.72" stroke="#86d5e2" stroke-width="0.9"/>
<rect x="271.25" y="285.39" width="10.5" height="43.51" fill="url(#chkC)" stroke="#86d5e2" stroke-width="0.6"/>
<line x1="218.30" y1="328.90" x2="218.30" y2="224.90" stroke="#333" stroke-width="0.9"/>
<line x1="214.10" y1="328.90" x2="287.80" y2="328.90" stroke="#333" stroke-width="0.9"/>
<line x1="214.10" y1="328.90" x2="218.30" y2="328.90" stroke="#333" stroke-width="0.9"/>
<text x="209.00" y="331.50" font-size="7.8" font-weight="bold" text-anchor="end" fill="#111">0</text>
<line x1="214.10" y1="303.00" x2="218.30" y2="303.00" stroke="#333" stroke-width="0.9"/>
<text x="209.00" y="305.60" font-size="7.8" font-weight="bold" text-anchor="end" fill="#111">1</text>
<line x1="214.10" y1="277.10" x2="218.30" y2="277.10" stroke="#333" stroke-width="0.9"/>
<text x="209.00" y="279.70" font-size="7.8" font-weight="bold" text-anchor="end" fill="#111">2</text>
<line x1="214.10" y1="251.20" x2="218.30" y2="251.20" stroke="#333" stroke-width="0.9"/>
<text x="209.00" y="253.80" font-size="7.8" font-weight="bold" text-anchor="end" fill="#111">3</text>
<line x1="214.10" y1="225.30" x2="218.30" y2="225.30" stroke="#333" stroke-width="0.9"/>
<text x="209.00" y="227.90" font-size="7.8" font-weight="bold" text-anchor="end" fill="#111">4</text>
<line x1="229.00" y1="328.90" x2="229.00" y2="333.30" stroke="#333" stroke-width="0.9"/>
<line x1="244.80" y1="328.90" x2="244.80" y2="333.30" stroke="#333" stroke-width="0.9"/>
<line x1="260.50" y1="328.90" x2="260.50" y2="333.30" stroke="#333" stroke-width="0.9"/>
<line x1="276.50" y1="328.90" x2="276.50" y2="333.30" stroke="#333" stroke-width="0.9"/>
<circle cx="225.70" cy="328.90" r="1.85" fill="#fff" stroke="#000" stroke-width="0.85"/>
<circle cx="229.00" cy="328.90" r="1.85" fill="#fff" stroke="#000" stroke-width="0.85"/>
<circle cx="232.30" cy="328.90" r="1.85" fill="#fff" stroke="#000" stroke-width="0.85"/>
<circle cx="241.50" cy="328.90" r="1.85" fill="#fff" stroke="#000" stroke-width="0.85"/>
<circle cx="244.80" cy="328.90" r="1.85" fill="#fff" stroke="#000" stroke-width="0.85"/>
<circle cx="248.10" cy="328.90" r="1.85" fill="#fff" stroke="#000" stroke-width="0.85"/>
<circle cx="260.60" cy="240.32" r="1.85" fill="#fff" stroke="#000" stroke-width="0.85"/>
<circle cx="260.60" cy="255.60" r="1.85" fill="#fff" stroke="#000" stroke-width="0.85"/>
<circle cx="260.60" cy="262.60" r="1.85" fill="#fff" stroke="#000" stroke-width="0.85"/>
<circle cx="273.10" cy="285.39" r="1.85" fill="#fff" stroke="#000" stroke-width="0.85"/>
<circle cx="276.20" cy="283.32" r="1.85" fill="#fff" stroke="#000" stroke-width="0.85"/>
<circle cx="279.60" cy="284.87" r="1.85" fill="#fff" stroke="#000" stroke-width="0.85"/>
<line x1="255.20" y1="336.10" x2="281.80" y2="336.10" stroke="#333" stroke-width="1.0"/>
<text x="268.50" y="343.40" font-size="7.2" font-weight="bold" text-anchor="middle" fill="#111" textLength="19" lengthAdjust="spacingAndGlyphs">+ IL-4</text>
<line x1="261.40" y1="233.80" x2="277.00" y2="233.80" stroke="#333" stroke-width="0.8"/>
<text x="269.20" y="234.30" font-size="7.4" font-weight="bold" text-anchor="middle" fill="#000" stroke="#000" stroke-width="0.25" textLength="10.2" lengthAdjust="spacing">***</text>
<text x="252.80" y="212.00" font-size="9.6" font-weight="bold" text-anchor="middle" fill="#111" textLength="67.4" lengthAdjust="spacingAndGlyphs">CD273 (PD-L2)</text>
<text transform="translate(194.20,277.10) rotate(-90)" x="0" y="0" font-size="7.5" font-weight="bold" text-anchor="middle" fill="#111" textLength="46.2" lengthAdjust="spacingAndGlyphs">ΔMFI (×10<tspan dy="-3.5" font-size="5.6">4</tspan><tspan dy="3.5">)</tspan></text>
<rect x="372.05" y="320.86" width="10.5" height="7.74" fill="#000" stroke="#000" stroke-width="0.6"/>
<rect x="387.95" y="317.76" width="10.5" height="10.84" fill="url(#chkK)" stroke="#000" stroke-width="0.6"/>
<rect x="403.95" y="259.97" width="10.5" height="68.63" fill="#86d5e2" stroke="#86d5e2" stroke-width="0.6"/>
<line x1="409.20" y1="259.97" x2="409.20" y2="251.20" stroke="#86d5e2" stroke-width="0.9"/>
<line x1="407.20" y1="251.20" x2="411.20" y2="251.20" stroke="#86d5e2" stroke-width="0.9"/>
<rect x="419.55" y="254.30" width="10.5" height="74.30" fill="url(#chkC)" stroke="#86d5e2" stroke-width="0.6"/>
<line x1="424.80" y1="254.30" x2="424.80" y2="250.17" stroke="#86d5e2" stroke-width="0.9"/>
<line x1="422.80" y1="250.17" x2="426.80" y2="250.17" stroke="#86d5e2" stroke-width="0.9"/>
<line x1="366.90" y1="328.60" x2="366.90" y2="225.00" stroke="#333" stroke-width="0.9"/>
<line x1="362.70" y1="328.60" x2="433.20" y2="328.60" stroke="#333" stroke-width="0.9"/>
<line x1="362.70" y1="328.60" x2="366.90" y2="328.60" stroke="#333" stroke-width="0.9"/>
<text x="357.90" y="331.20" font-size="7.8" font-weight="bold" text-anchor="end" fill="#111">0</text>
<line x1="362.70" y1="302.80" x2="366.90" y2="302.80" stroke="#333" stroke-width="0.9"/>
<text x="357.90" y="305.40" font-size="7.8" font-weight="bold" text-anchor="end" fill="#111">0.5</text>
<line x1="362.70" y1="277.00" x2="366.90" y2="277.00" stroke="#333" stroke-width="0.9"/>
<text x="357.90" y="279.60" font-size="7.8" font-weight="bold" text-anchor="end" fill="#111">1</text>
<line x1="362.70" y1="251.20" x2="366.90" y2="251.20" stroke="#333" stroke-width="0.9"/>
<text x="357.90" y="253.80" font-size="7.8" font-weight="bold" text-anchor="end" fill="#111">1.5</text>
<line x1="362.70" y1="225.40" x2="366.90" y2="225.40" stroke="#333" stroke-width="0.9"/>
<text x="357.90" y="228.00" font-size="7.8" font-weight="bold" text-anchor="end" fill="#111">2</text>
<line x1="377.30" y1="328.60" x2="377.30" y2="333.00" stroke="#333" stroke-width="0.9"/>
<line x1="393.20" y1="328.60" x2="393.20" y2="333.00" stroke="#333" stroke-width="0.9"/>
<line x1="409.20" y1="328.60" x2="409.20" y2="333.00" stroke="#333" stroke-width="0.9"/>
<line x1="424.80" y1="328.60" x2="424.80" y2="333.00" stroke="#333" stroke-width="0.9"/>
<circle cx="374.00" cy="319.31" r="1.85" fill="#fff" stroke="#000" stroke-width="0.85"/>
<circle cx="377.90" cy="318.28" r="1.85" fill="#fff" stroke="#000" stroke-width="0.85"/>
<circle cx="381.30" cy="319.31" r="1.85" fill="#fff" stroke="#000" stroke-width="0.85"/>
<circle cx="389.80" cy="317.25" r="1.85" fill="#fff" stroke="#000" stroke-width="0.85"/>
<circle cx="393.20" cy="313.64" r="1.85" fill="#fff" stroke="#000" stroke-width="0.85"/>
<circle cx="396.70" cy="316.22" r="1.85" fill="#fff" stroke="#000" stroke-width="0.85"/>
<circle cx="408.40" cy="241.91" r="1.85" fill="#fff" stroke="#000" stroke-width="0.85"/>
<circle cx="405.30" cy="269.26" r="1.85" fill="#fff" stroke="#000" stroke-width="0.85"/>
<circle cx="412.60" cy="267.20" r="1.85" fill="#fff" stroke="#000" stroke-width="0.85"/>
<circle cx="424.90" cy="246.04" r="1.85" fill="#fff" stroke="#000" stroke-width="0.85"/>
<circle cx="421.70" cy="256.88" r="1.85" fill="#fff" stroke="#000" stroke-width="0.85"/>
<circle cx="428.80" cy="256.88" r="1.85" fill="#fff" stroke="#000" stroke-width="0.85"/>
<line x1="403.90" y1="335.80" x2="430.10" y2="335.80" stroke="#333" stroke-width="1.0"/>
<text x="417.00" y="343.10" font-size="7.2" font-weight="bold" text-anchor="middle" fill="#111" textLength="19" lengthAdjust="spacingAndGlyphs">+ IL-4</text>
<text x="401.60" y="212.00" font-size="9.6" font-weight="bold" text-anchor="middle" fill="#111" textLength="54" lengthAdjust="spacingAndGlyphs">CD71 (TFR)</text>
<text transform="translate(335.50,277.30) rotate(-90)" x="0" y="0" font-size="7.5" font-weight="bold" text-anchor="middle" fill="#111" textLength="46.2" lengthAdjust="spacingAndGlyphs">ΔMFI (×10<tspan dy="-3.5" font-size="5.6">5</tspan><tspan dy="3.5">)</tspan></text>
<rect x="518.05" y="325.99" width="10.5" height="2.41" fill="#000" stroke="#000" stroke-width="0.6"/>
<rect x="533.95" y="324.96" width="10.5" height="3.44" fill="url(#chkK)" stroke="#000" stroke-width="0.6"/>
<rect x="549.75" y="250.66" width="10.5" height="77.74" fill="#86d5e2" stroke="#86d5e2" stroke-width="0.6"/>
<rect x="565.75" y="268.20" width="10.5" height="60.20" fill="url(#chkC)" stroke="#86d5e2" stroke-width="0.6"/>
<line x1="512.30" y1="328.40" x2="512.30" y2="224.80" stroke="#333" stroke-width="0.9"/>
<line x1="508.10" y1="328.40" x2="581.90" y2="328.40" stroke="#333" stroke-width="0.9"/>
<line x1="508.10" y1="328.40" x2="512.30" y2="328.40" stroke="#333" stroke-width="0.9"/>
<text x="503.80" y="331.00" font-size="7.8" font-weight="bold" text-anchor="end" fill="#111">0</text>
<line x1="508.10" y1="294.00" x2="512.30" y2="294.00" stroke="#333" stroke-width="0.9"/>
<text x="503.80" y="296.60" font-size="7.8" font-weight="bold" text-anchor="end" fill="#111">1</text>
<line x1="508.10" y1="259.60" x2="512.30" y2="259.60" stroke="#333" stroke-width="0.9"/>
<text x="503.80" y="262.20" font-size="7.8" font-weight="bold" text-anchor="end" fill="#111">2</text>
<line x1="508.10" y1="225.20" x2="512.30" y2="225.20" stroke="#333" stroke-width="0.9"/>
<text x="503.80" y="227.80" font-size="7.8" font-weight="bold" text-anchor="end" fill="#111">3</text>
<line x1="523.30" y1="328.40" x2="523.30" y2="332.80" stroke="#333" stroke-width="0.9"/>
<line x1="539.20" y1="328.40" x2="539.20" y2="332.80" stroke="#333" stroke-width="0.9"/>
<line x1="555.00" y1="328.40" x2="555.00" y2="332.80" stroke="#333" stroke-width="0.9"/>
<line x1="571.00" y1="328.40" x2="571.00" y2="332.80" stroke="#333" stroke-width="0.9"/>
<circle cx="520.70" cy="324.96" r="1.85" fill="#fff" stroke="#000" stroke-width="0.85"/>
<circle cx="523.90" cy="324.27" r="1.85" fill="#fff" stroke="#000" stroke-width="0.85"/>
<circle cx="526.50" cy="324.96" r="1.85" fill="#fff" stroke="#000" stroke-width="0.85"/>
<circle cx="535.90" cy="324.27" r="1.85" fill="#fff" stroke="#000" stroke-width="0.85"/>
<circle cx="539.30" cy="324.27" r="1.85" fill="#fff" stroke="#000" stroke-width="0.85"/>
<circle cx="542.90" cy="324.27" r="1.85" fill="#fff" stroke="#000" stroke-width="0.85"/>
<circle cx="551.90" cy="245.15" r="1.85" fill="#fff" stroke="#000" stroke-width="0.85"/>
<circle cx="558.40" cy="247.90" r="1.85" fill="#fff" stroke="#000" stroke-width="0.85"/>
<circle cx="555.30" cy="257.54" r="1.85" fill="#fff" stroke="#000" stroke-width="0.85"/>
<circle cx="567.30" cy="268.54" r="1.85" fill="#fff" stroke="#000" stroke-width="0.85"/>
<circle cx="570.90" cy="266.82" r="1.85" fill="#fff" stroke="#000" stroke-width="0.85"/>
<circle cx="574.10" cy="268.20" r="1.85" fill="#fff" stroke="#000" stroke-width="0.85"/>
<line x1="549.70" y1="335.60" x2="576.30" y2="335.60" stroke="#333" stroke-width="1.0"/>
<text x="563.00" y="342.90" font-size="7.2" font-weight="bold" text-anchor="middle" fill="#111" textLength="19" lengthAdjust="spacingAndGlyphs">+ IL-4</text>
<line x1="555.80" y1="237.20" x2="571.50" y2="237.20" stroke="#333" stroke-width="0.8"/>
<text x="563.65" y="237.70" font-size="7.4" font-weight="bold" text-anchor="middle" fill="#000" stroke="#000" stroke-width="0.25" textLength="10.2" lengthAdjust="spacing">***</text>
<text x="547.00" y="211.90" font-size="9.6" font-weight="bold" text-anchor="middle" fill="#111" textLength="76.2" lengthAdjust="spacingAndGlyphs">CD301 (MGL1/2)</text>
<text transform="translate(486.80,277.30) rotate(-90)" x="0" y="0" font-size="7.5" font-weight="bold" text-anchor="middle" fill="#111" textLength="46.2" lengthAdjust="spacingAndGlyphs">ΔMFI (×10<tspan dy="-3.5" font-size="5.6">5</tspan><tspan dy="3.5">)</tspan></text>
<rect x="104.25" y="418.63" width="10.5" height="65.26" fill="#86d5e2" stroke="#86d5e2" stroke-width="0.6"/>
<line x1="109.50" y1="418.63" x2="109.50" y2="415.20" stroke="#86d5e2" stroke-width="0.9"/>
<line x1="107.50" y1="415.20" x2="111.50" y2="415.20" stroke="#86d5e2" stroke-width="0.9"/>
<rect x="120.05" y="467.82" width="10.5" height="16.08" fill="url(#chkC)" stroke="#86d5e2" stroke-width="0.6"/>
<line x1="125.30" y1="467.82" x2="125.30" y2="464.66" stroke="#86d5e2" stroke-width="0.9"/>
<line x1="123.30" y1="464.66" x2="127.30" y2="464.66" stroke="#86d5e2" stroke-width="0.9"/>
<line x1="67.60" y1="483.90" x2="67.60" y2="380.45" stroke="#333" stroke-width="0.9"/>
<line x1="63.40" y1="483.90" x2="136.90" y2="483.90" stroke="#333" stroke-width="0.9"/>
<line x1="63.40" y1="483.90" x2="67.60" y2="483.90" stroke="#333" stroke-width="0.9"/>
<text x="59.20" y="486.50" font-size="7.2" font-weight="bold" text-anchor="end" fill="#111">0</text>
<line x1="63.40" y1="449.55" x2="67.60" y2="449.55" stroke="#333" stroke-width="0.9"/>
<text x="59.20" y="452.15" font-size="7.2" font-weight="bold" text-anchor="end" fill="#111" textLength="25.0" lengthAdjust="spacingAndGlyphs">5 × 10<tspan dy="-2.6" font-size="5.0">3</tspan></text>
<line x1="63.40" y1="415.20" x2="67.60" y2="415.20" stroke="#333" stroke-width="0.9"/>
<text x="59.20" y="417.80" font-size="7.2" font-weight="bold" text-anchor="end" fill="#111" textLength="25.0" lengthAdjust="spacingAndGlyphs">1 × 10<tspan dy="-2.6" font-size="5.0">4</tspan></text>
<line x1="63.40" y1="380.85" x2="67.60" y2="380.85" stroke="#333" stroke-width="0.9"/>
<text x="59.20" y="383.45" font-size="7.2" font-weight="bold" text-anchor="end" fill="#111" textLength="31.1" lengthAdjust="spacingAndGlyphs">1.5 × 10<tspan dy="-2.6" font-size="5.0">4</tspan></text>
<line x1="77.70" y1="483.90" x2="77.70" y2="488.30" stroke="#333" stroke-width="0.9"/>
<line x1="93.80" y1="483.90" x2="93.80" y2="488.30" stroke="#333" stroke-width="0.9"/>
<line x1="109.50" y1="483.90" x2="109.50" y2="488.30" stroke="#333" stroke-width="0.9"/>
<line x1="125.30" y1="483.90" x2="125.30" y2="488.30" stroke="#333" stroke-width="0.9"/>
<circle cx="74.50" cy="483.90" r="1.85" fill="#fff" stroke="#000" stroke-width="0.85"/>
<circle cx="77.70" cy="483.90" r="1.85" fill="#fff" stroke="#000" stroke-width="0.85"/>
<circle cx="80.90" cy="483.90" r="1.85" fill="#fff" stroke="#000" stroke-width="0.85"/>
<circle cx="90.60" cy="483.90" r="1.85" fill="#fff" stroke="#000" stroke-width="0.85"/>
<circle cx="93.80" cy="483.90" r="1.85" fill="#fff" stroke="#000" stroke-width="0.85"/>
<circle cx="97.00" cy="483.90" r="1.85" fill="#fff" stroke="#000" stroke-width="0.85"/>
<circle cx="106.20" cy="415.20" r="1.85" fill="#fff" stroke="#000" stroke-width="0.85"/>
<circle cx="112.70" cy="412.80" r="1.85" fill="#fff" stroke="#000" stroke-width="0.85"/>
<circle cx="109.70" cy="420.70" r="1.85" fill="#fff" stroke="#000" stroke-width="0.85"/>
<circle cx="109.70" cy="429.63" r="1.85" fill="#fff" stroke="#000" stroke-width="0.85"/>
<circle cx="125.80" cy="459.17" r="1.85" fill="#fff" stroke="#000" stroke-width="0.85"/>
<circle cx="122.50" cy="470.85" r="1.85" fill="#fff" stroke="#000" stroke-width="0.85"/>
<circle cx="128.40" cy="470.50" r="1.85" fill="#fff" stroke="#000" stroke-width="0.85"/>
<circle cx="125.50" cy="470.16" r="1.85" fill="#fff" stroke="#000" stroke-width="0.85"/>
<line x1="104.20" y1="491.10" x2="130.60" y2="491.10" stroke="#333" stroke-width="1.0"/>
<text x="117.40" y="498.40" font-size="7.2" font-weight="bold" text-anchor="middle" fill="#111" textLength="19" lengthAdjust="spacingAndGlyphs">+ IL-4</text>
<line x1="111.50" y1="404.90" x2="125.80" y2="404.90" stroke="#333" stroke-width="0.8"/>
<text x="118.65" y="405.40" font-size="7.4" font-weight="bold" text-anchor="middle" fill="#000" stroke="#000" stroke-width="0.25" textLength="10.2" lengthAdjust="spacing">***</text>
<text x="101.90" y="366.50" font-size="9.6" font-weight="bold" text-anchor="middle" fill="#111" font-style="italic" textLength="22.3" lengthAdjust="spacingAndGlyphs">Arg1</text>
<text transform="translate(7.30,431.80) rotate(-90)" x="0" y="0" font-size="8.3" font-weight="bold" text-anchor="middle" fill="#111" textLength="78.3" lengthAdjust="spacingAndGlyphs">Relative normalized</text>
<text transform="translate(17.30,431.80) rotate(-90)" x="0" y="0" font-size="8.3" font-weight="bold" text-anchor="middle" fill="#111" textLength="65.0" lengthAdjust="spacingAndGlyphs">gene expression</text>
<rect x="255.75" y="410.20" width="10.5" height="73.30" fill="#86d5e2" stroke="#86d5e2" stroke-width="0.6"/>
<line x1="261.00" y1="410.20" x2="261.00" y2="404.04" stroke="#86d5e2" stroke-width="0.9"/>
<line x1="259.00" y1="404.04" x2="263.00" y2="404.04" stroke="#86d5e2" stroke-width="0.9"/>
<rect x="271.35" y="433.02" width="10.5" height="50.48" fill="url(#chkC)" stroke="#86d5e2" stroke-width="0.6"/>
<line x1="218.50" y1="483.50" x2="218.50" y2="380.35" stroke="#333" stroke-width="0.9"/>
<line x1="214.30" y1="483.50" x2="287.80" y2="483.50" stroke="#333" stroke-width="0.9"/>
<line x1="214.30" y1="483.50" x2="218.50" y2="483.50" stroke="#333" stroke-width="0.9"/>
<text x="210.60" y="486.10" font-size="7.2" font-weight="bold" text-anchor="end" fill="#111">0</text>
<line x1="214.30" y1="449.25" x2="218.50" y2="449.25" stroke="#333" stroke-width="0.9"/>
<text x="210.60" y="451.85" font-size="7.2" font-weight="bold" text-anchor="end" fill="#111" textLength="25.0" lengthAdjust="spacingAndGlyphs">5 × 10<tspan dy="-2.6" font-size="5.0">3</tspan></text>
<line x1="214.30" y1="415.00" x2="218.50" y2="415.00" stroke="#333" stroke-width="0.9"/>
<text x="210.60" y="417.60" font-size="7.2" font-weight="bold" text-anchor="end" fill="#111" textLength="25.0" lengthAdjust="spacingAndGlyphs">1 × 10<tspan dy="-2.6" font-size="5.0">4</tspan></text>
<line x1="214.30" y1="380.75" x2="218.50" y2="380.75" stroke="#333" stroke-width="0.9"/>
<text x="210.60" y="383.35" font-size="7.2" font-weight="bold" text-anchor="end" fill="#111" textLength="31.1" lengthAdjust="spacingAndGlyphs">1.5 × 10<tspan dy="-2.6" font-size="5.0">4</tspan></text>
<line x1="229.30" y1="483.50" x2="229.30" y2="487.90" stroke="#333" stroke-width="0.9"/>
<line x1="244.80" y1="483.50" x2="244.80" y2="487.90" stroke="#333" stroke-width="0.9"/>
<line x1="261.00" y1="483.50" x2="261.00" y2="487.90" stroke="#333" stroke-width="0.9"/>
<line x1="276.60" y1="483.50" x2="276.60" y2="487.90" stroke="#333" stroke-width="0.9"/>
<circle cx="226.10" cy="483.50" r="1.85" fill="#fff" stroke="#000" stroke-width="0.85"/>
<circle cx="229.30" cy="483.50" r="1.85" fill="#fff" stroke="#000" stroke-width="0.85"/>
<circle cx="232.50" cy="483.50" r="1.85" fill="#fff" stroke="#000" stroke-width="0.85"/>
<circle cx="241.60" cy="483.50" r="1.85" fill="#fff" stroke="#000" stroke-width="0.85"/>
<circle cx="244.80" cy="483.50" r="1.85" fill="#fff" stroke="#000" stroke-width="0.85"/>
<circle cx="248.00" cy="483.50" r="1.85" fill="#fff" stroke="#000" stroke-width="0.85"/>
<circle cx="260.70" cy="395.82" r="1.85" fill="#fff" stroke="#000" stroke-width="0.85"/>
<circle cx="257.10" cy="410.20" r="1.85" fill="#fff" stroke="#000" stroke-width="0.85"/>
<circle cx="264.00" cy="410.89" r="1.85" fill="#fff" stroke="#000" stroke-width="0.85"/>
<circle cx="260.70" cy="423.22" r="1.85" fill="#fff" stroke="#000" stroke-width="0.85"/>
<circle cx="273.00" cy="432.81" r="1.85" fill="#fff" stroke="#000" stroke-width="0.85"/>
<circle cx="279.50" cy="429.38" r="1.85" fill="#fff" stroke="#000" stroke-width="0.85"/>
<circle cx="273.00" cy="438.98" r="1.85" fill="#fff" stroke="#000" stroke-width="0.85"/>
<circle cx="279.50" cy="437.61" r="1.85" fill="#fff" stroke="#000" stroke-width="0.85"/>
<line x1="255.70" y1="490.70" x2="281.90" y2="490.70" stroke="#333" stroke-width="1.0"/>
<text x="268.80" y="498.00" font-size="7.2" font-weight="bold" text-anchor="middle" fill="#111" textLength="19" lengthAdjust="spacingAndGlyphs">+ IL-4</text>
<line x1="261.40" y1="389.30" x2="277.40" y2="389.30" stroke="#333" stroke-width="0.8"/>
<text x="269.40" y="389.80" font-size="7.4" font-weight="bold" text-anchor="middle" fill="#000" stroke="#000" stroke-width="0.25" textLength="10.2" lengthAdjust="spacing">***</text>
<text x="253.50" y="366.70" font-size="9.6" font-weight="bold" text-anchor="middle" fill="#111" font-style="italic" textLength="65.2" lengthAdjust="spacingAndGlyphs">Retnla (Fizz1)</text>
<text transform="translate(158.80,431.80) rotate(-90)" x="0" y="0" font-size="8.3" font-weight="bold" text-anchor="middle" fill="#111" textLength="78.3" lengthAdjust="spacingAndGlyphs">Relative normalized</text>
<text transform="translate(168.80,431.80) rotate(-90)" x="0" y="0" font-size="8.3" font-weight="bold" text-anchor="middle" fill="#111" textLength="65.0" lengthAdjust="spacingAndGlyphs">gene expression</text>
<rect x="402.95" y="420.19" width="10.5" height="63.11" fill="#86d5e2" stroke="#86d5e2" stroke-width="0.6"/>
<rect x="419.05" y="443.51" width="10.5" height="39.79" fill="url(#chkC)" stroke="#86d5e2" stroke-width="0.6"/>
<line x1="366.40" y1="483.30" x2="366.40" y2="380.00" stroke="#333" stroke-width="0.9"/>
<line x1="362.20" y1="483.30" x2="435.00" y2="483.30" stroke="#333" stroke-width="0.9"/>
<line x1="362.20" y1="483.30" x2="366.40" y2="483.30" stroke="#333" stroke-width="0.9"/>
<text x="360.80" y="485.90" font-size="7.2" font-weight="bold" text-anchor="end" fill="#111">0</text>
<line x1="362.20" y1="449.00" x2="366.40" y2="449.00" stroke="#333" stroke-width="0.9"/>
<text x="360.80" y="451.60" font-size="7.2" font-weight="bold" text-anchor="end" fill="#111" textLength="25.0" lengthAdjust="spacingAndGlyphs">5 × 10<tspan dy="-2.6" font-size="5.0">1</tspan></text>
<line x1="362.20" y1="414.70" x2="366.40" y2="414.70" stroke="#333" stroke-width="0.9"/>
<text x="360.80" y="417.30" font-size="7.2" font-weight="bold" text-anchor="end" fill="#111" textLength="25.0" lengthAdjust="spacingAndGlyphs">1 × 10<tspan dy="-2.6" font-size="5.0">2</tspan></text>
<line x1="362.20" y1="380.40" x2="366.40" y2="380.40" stroke="#333" stroke-width="0.9"/>
<text x="360.80" y="383.00" font-size="7.2" font-weight="bold" text-anchor="end" fill="#111" textLength="31.1" lengthAdjust="spacingAndGlyphs">1.5 × 10<tspan dy="-2.6" font-size="5.0">2</tspan></text>
<line x1="376.70" y1="483.30" x2="376.70" y2="487.70" stroke="#333" stroke-width="0.9"/>
<line x1="392.20" y1="483.30" x2="392.20" y2="487.70" stroke="#333" stroke-width="0.9"/>
<line x1="408.20" y1="483.30" x2="408.20" y2="487.70" stroke="#333" stroke-width="0.9"/>
<line x1="424.30" y1="483.30" x2="424.30" y2="487.70" stroke="#333" stroke-width="0.9"/>
<circle cx="373.50" cy="483.30" r="1.85" fill="#fff" stroke="#000" stroke-width="0.85"/>
<circle cx="376.70" cy="483.30" r="1.85" fill="#fff" stroke="#000" stroke-width="0.85"/>
<circle cx="379.90" cy="483.30" r="1.85" fill="#fff" stroke="#000" stroke-width="0.85"/>
<circle cx="389.00" cy="483.30" r="1.85" fill="#fff" stroke="#000" stroke-width="0.85"/>
<circle cx="392.20" cy="483.30" r="1.85" fill="#fff" stroke="#000" stroke-width="0.85"/>
<circle cx="395.40" cy="483.30" r="1.85" fill="#fff" stroke="#000" stroke-width="0.85"/>
<circle cx="405.00" cy="416.76" r="1.85" fill="#fff" stroke="#000" stroke-width="0.85"/>
<circle cx="408.90" cy="418.82" r="1.85" fill="#fff" stroke="#000" stroke-width="0.85"/>
<circle cx="412.00" cy="420.19" r="1.85" fill="#fff" stroke="#000" stroke-width="0.85"/>
<circle cx="405.00" cy="421.22" r="1.85" fill="#fff" stroke="#000" stroke-width="0.85"/>
<circle cx="421.00" cy="442.14" r="1.85" fill="#fff" stroke="#000" stroke-width="0.85"/>
<circle cx="421.00" cy="446.26" r="1.85" fill="#fff" stroke="#000" stroke-width="0.85"/>
<circle cx="427.40" cy="438.71" r="1.85" fill="#fff" stroke="#000" stroke-width="0.85"/>
<circle cx="427.40" cy="443.51" r="1.85" fill="#fff" stroke="#000" stroke-width="0.85"/>
<line x1="402.90" y1="490.50" x2="429.60" y2="490.50" stroke="#333" stroke-width="1.0"/>
<text x="416.25" y="497.80" font-size="7.2" font-weight="bold" text-anchor="middle" fill="#111" textLength="19" lengthAdjust="spacingAndGlyphs">+ IL-4</text>
<line x1="409.40" y1="409.90" x2="424.80" y2="409.90" stroke="#333" stroke-width="0.8"/>
<text x="417.10" y="410.40" font-size="7.4" font-weight="bold" text-anchor="middle" fill="#000" stroke="#000" stroke-width="0.25" textLength="10.2" lengthAdjust="spacing">***</text>
<text x="401.20" y="366.70" font-size="9.6" font-weight="bold" text-anchor="middle" fill="#111" font-style="italic" textLength="56.4" lengthAdjust="spacingAndGlyphs">Chil3 (Ym1)</text>
<text transform="translate(310.00,431.80) rotate(-90)" x="0" y="0" font-size="8.3" font-weight="bold" text-anchor="middle" fill="#111" textLength="78.3" lengthAdjust="spacingAndGlyphs">Relative normalized</text>
<text transform="translate(320.00,431.80) rotate(-90)" x="0" y="0" font-size="8.3" font-weight="bold" text-anchor="middle" fill="#111" textLength="65.0" lengthAdjust="spacingAndGlyphs">gene expression</text>
<rect x="550.35" y="405.21" width="10.5" height="78.09" fill="#86d5e2" stroke="#86d5e2" stroke-width="0.6"/>
<rect x="565.95" y="445.08" width="10.5" height="38.22" fill="url(#chkC)" stroke="#86d5e2" stroke-width="0.6"/>
<line x1="513.40" y1="483.30" x2="513.40" y2="380.15" stroke="#333" stroke-width="0.9"/>
<line x1="509.20" y1="483.30" x2="583.00" y2="483.30" stroke="#333" stroke-width="0.9"/>
<line x1="509.20" y1="483.30" x2="513.40" y2="483.30" stroke="#333" stroke-width="0.9"/>
<text x="507.60" y="485.90" font-size="7.2" font-weight="bold" text-anchor="end" fill="#111">0</text>
<line x1="509.20" y1="462.75" x2="513.40" y2="462.75" stroke="#333" stroke-width="0.9"/>
<text x="507.60" y="465.35" font-size="7.2" font-weight="bold" text-anchor="end" fill="#111" textLength="25.0" lengthAdjust="spacingAndGlyphs">1 × 10<tspan dy="-2.6" font-size="5.0">2</tspan></text>
<line x1="509.20" y1="442.20" x2="513.40" y2="442.20" stroke="#333" stroke-width="0.9"/>
<text x="507.60" y="444.80" font-size="7.2" font-weight="bold" text-anchor="end" fill="#111" textLength="25.0" lengthAdjust="spacingAndGlyphs">2 × 10<tspan dy="-2.6" font-size="5.0">2</tspan></text>
<line x1="509.20" y1="421.65" x2="513.40" y2="421.65" stroke="#333" stroke-width="0.9"/>
<text x="507.60" y="424.25" font-size="7.2" font-weight="bold" text-anchor="end" fill="#111" textLength="25.0" lengthAdjust="spacingAndGlyphs">3 × 10<tspan dy="-2.6" font-size="5.0">2</tspan></text>
<line x1="509.20" y1="401.10" x2="513.40" y2="401.10" stroke="#333" stroke-width="0.9"/>
<text x="507.60" y="403.70" font-size="7.2" font-weight="bold" text-anchor="end" fill="#111" textLength="25.0" lengthAdjust="spacingAndGlyphs">4 × 10<tspan dy="-2.6" font-size="5.0">2</tspan></text>
<line x1="509.20" y1="380.55" x2="513.40" y2="380.55" stroke="#333" stroke-width="0.9"/>
<text x="507.60" y="383.15" font-size="7.2" font-weight="bold" text-anchor="end" fill="#111" textLength="25.0" lengthAdjust="spacingAndGlyphs">5 × 10<tspan dy="-2.6" font-size="5.0">2</tspan></text>
<line x1="524.00" y1="483.30" x2="524.00" y2="487.70" stroke="#333" stroke-width="0.9"/>
<line x1="539.50" y1="483.30" x2="539.50" y2="487.70" stroke="#333" stroke-width="0.9"/>
<line x1="555.60" y1="483.30" x2="555.60" y2="487.70" stroke="#333" stroke-width="0.9"/>
<line x1="571.20" y1="483.30" x2="571.20" y2="487.70" stroke="#333" stroke-width="0.9"/>
<circle cx="520.80" cy="483.30" r="1.85" fill="#fff" stroke="#000" stroke-width="0.85"/>
<circle cx="524.00" cy="483.30" r="1.85" fill="#fff" stroke="#000" stroke-width="0.85"/>
<circle cx="527.20" cy="483.30" r="1.85" fill="#fff" stroke="#000" stroke-width="0.85"/>
<circle cx="536.30" cy="483.30" r="1.85" fill="#fff" stroke="#000" stroke-width="0.85"/>
<circle cx="539.50" cy="483.30" r="1.85" fill="#fff" stroke="#000" stroke-width="0.85"/>
<circle cx="542.70" cy="483.30" r="1.85" fill="#fff" stroke="#000" stroke-width="0.85"/>
<circle cx="555.20" cy="396.99" r="1.85" fill="#fff" stroke="#000" stroke-width="0.85"/>
<circle cx="555.20" cy="403.16" r="1.85" fill="#fff" stroke="#000" stroke-width="0.85"/>
<circle cx="555.20" cy="407.88" r="1.85" fill="#fff" stroke="#000" stroke-width="0.85"/>
<circle cx="555.20" cy="412.20" r="1.85" fill="#fff" stroke="#000" stroke-width="0.85"/>
<circle cx="567.50" cy="445.28" r="1.85" fill="#fff" stroke="#000" stroke-width="0.85"/>
<circle cx="567.50" cy="451.04" r="1.85" fill="#fff" stroke="#000" stroke-width="0.85"/>
<circle cx="573.90" cy="442.82" r="1.85" fill="#fff" stroke="#000" stroke-width="0.85"/>
<circle cx="573.90" cy="449.80" r="1.85" fill="#fff" stroke="#000" stroke-width="0.85"/>
<line x1="550.30" y1="490.50" x2="576.50" y2="490.50" stroke="#333" stroke-width="1.0"/>
<text x="563.40" y="497.80" font-size="7.2" font-weight="bold" text-anchor="middle" fill="#111" textLength="19" lengthAdjust="spacingAndGlyphs">+ IL-4</text>
<line x1="555.90" y1="390.60" x2="571.90" y2="390.60" stroke="#333" stroke-width="0.8"/>
<text x="563.90" y="391.10" font-size="7.4" font-weight="bold" text-anchor="middle" fill="#000" stroke="#000" stroke-width="0.25" textLength="10.2" lengthAdjust="spacing">***</text>
<text x="547.80" y="366.70" font-size="9.6" font-weight="bold" text-anchor="middle" fill="#111" font-style="italic" textLength="23.6" lengthAdjust="spacingAndGlyphs">Mgl2</text>
<text transform="translate(462.00,431.80) rotate(-90)" x="0" y="0" font-size="8.3" font-weight="bold" text-anchor="middle" fill="#111" textLength="78.3" lengthAdjust="spacingAndGlyphs">Relative normalized</text>
<text transform="translate(472.00,431.80) rotate(-90)" x="0" y="0" font-size="8.3" font-weight="bold" text-anchor="middle" fill="#111" textLength="65.0" lengthAdjust="spacingAndGlyphs">gene expression</text>
</svg>
</body></html>
